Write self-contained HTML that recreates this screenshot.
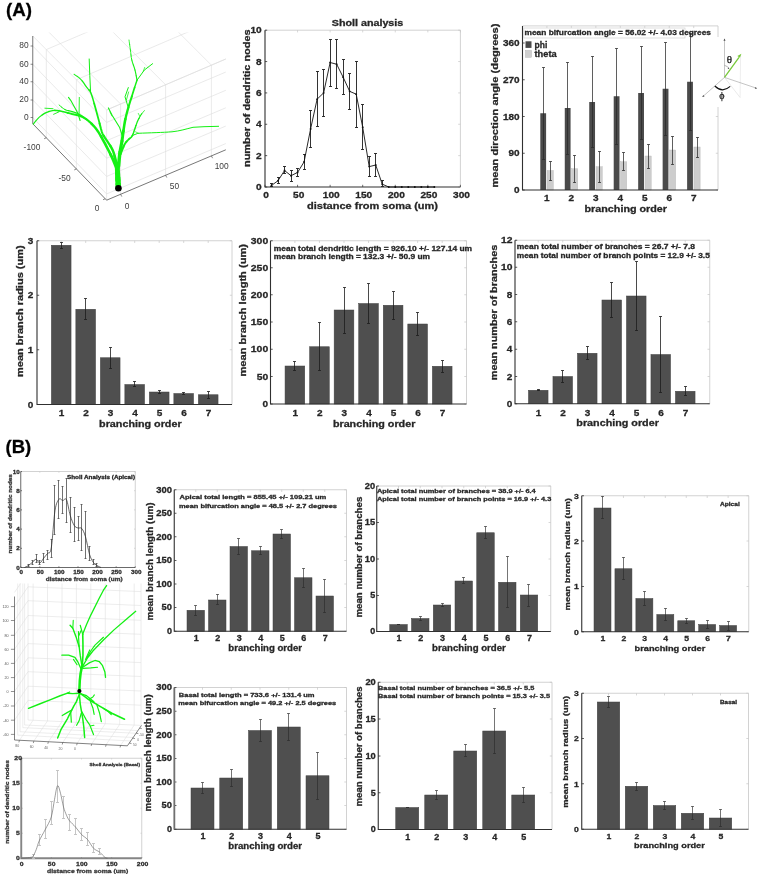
<!DOCTYPE html>
<html><head><meta charset="utf-8"><title>Figure</title>
<style>html,body{margin:0;padding:0;background:#fff;}svg{display:block;}</style></head>
<body>
<svg width="760" height="876" viewBox="0 0 760 876" font-family='"Liberation Sans", sans-serif'>
<rect x="0.00" y="0.00" width="760.00" height="876.00" fill="#ffffff"/>
<clipPath id="cpA"><rect x="20" y="32.5" width="206.2" height="180"/></clipPath>
<g clip-path="url(#cpA)" fill="none" stroke="#dcdcdc" stroke-width="0.6">
<path d="M32.75 46.00L106.60 122.45L225.80 72.05"/>
<path d="M32.75 64.25L106.60 140.70L225.80 90.30"/>
<path d="M32.75 81.75L106.60 158.20L225.80 107.80"/>
<path d="M32.75 100.00L106.60 176.45L225.80 126.05"/>
<path d="M32.75 117.50L106.60 193.95L225.80 143.55"/>
<path d="M32.75 36.00L106.60 110.00L225.80 59.00"/>
<path d="M46.30 137.78V49.58L165.50 -1.42"/>
<path d="M76.40 168.94V79.74L195.60 28.74"/>
<path d="M106.60 200.20V110.00L225.80 59.00"/>
<path d="M120.60 194.28V104.01L46.75 30.01"/>
<path d="M165.60 175.25V84.76L91.75 10.76"/>
<path d="M211.40 155.89V65.16L137.55 -8.84"/>
</g>
<path d="M32.75 36.0V123.75L106.60 200.20L225.80 149.80" fill="none" stroke="#3c3c3c" stroke-width="0.7"/>
<line x1="30.55" y1="46.00" x2="32.75" y2="46.00" stroke="#3c3c3c" stroke-width="0.6"/>
<line x1="30.55" y1="64.25" x2="32.75" y2="64.25" stroke="#3c3c3c" stroke-width="0.6"/>
<line x1="30.55" y1="81.75" x2="32.75" y2="81.75" stroke="#3c3c3c" stroke-width="0.6"/>
<line x1="30.55" y1="100.00" x2="32.75" y2="100.00" stroke="#3c3c3c" stroke-width="0.6"/>
<line x1="30.55" y1="117.50" x2="32.75" y2="117.50" stroke="#3c3c3c" stroke-width="0.6"/>
<line x1="46.30" y1="137.78" x2="44.10" y2="138.78" stroke="#3c3c3c" stroke-width="0.6"/>
<line x1="76.40" y1="168.94" x2="74.20" y2="169.94" stroke="#3c3c3c" stroke-width="0.6"/>
<line x1="105.20" y1="198.75" x2="103.00" y2="199.75" stroke="#3c3c3c" stroke-width="0.6"/>
<line x1="120.60" y1="194.28" x2="121.80" y2="196.58" stroke="#3c3c3c" stroke-width="0.6"/>
<line x1="165.60" y1="175.25" x2="166.80" y2="177.55" stroke="#3c3c3c" stroke-width="0.6"/>
<line x1="211.40" y1="155.89" x2="212.60" y2="158.19" stroke="#3c3c3c" stroke-width="0.6"/>
<path d="M118.30 186.00L118.21 184.56" fill="none" stroke="#14f014" stroke-width="5.54" stroke-linecap="round" stroke-linejoin="round"/>
<path d="M118.21 184.56L118.07 182.50L117.93 180.19" fill="none" stroke="#14f014" stroke-width="5.41" stroke-linecap="round" stroke-linejoin="round"/>
<path d="M117.93 180.19L117.80 178.00" fill="none" stroke="#14f014" stroke-width="5.29" stroke-linecap="round" stroke-linejoin="round"/>
<path d="M117.80 178.00L117.69 175.95L117.58 173.88" fill="none" stroke="#14f014" stroke-width="5.16" stroke-linecap="round" stroke-linejoin="round"/>
<path d="M117.58 173.88L117.48 171.86" fill="none" stroke="#14f014" stroke-width="5.04" stroke-linecap="round" stroke-linejoin="round"/>
<path d="M117.48 171.86L117.40 170.00L117.33 168.22" fill="none" stroke="#14f014" stroke-width="4.91" stroke-linecap="round" stroke-linejoin="round"/>
<path d="M117.33 168.22L117.28 166.50" fill="none" stroke="#14f014" stroke-width="4.79" stroke-linecap="round" stroke-linejoin="round"/>
<path d="M117.28 166.50L117.23 165.03L117.20 164.00" fill="none" stroke="#14f014" stroke-width="4.66" stroke-linecap="round" stroke-linejoin="round"/>
<path d="M116.40 168.00L115.71 166.27L114.71 163.78L113.59 161.03L112.50 158.50L111.54 156.42L110.61 154.51" fill="none" stroke="#14f014" stroke-width="2.88" stroke-linecap="round" stroke-linejoin="round"/>
<path d="M110.61 154.51L109.57 152.46L108.30 150.00L106.66 146.84L104.74 143.21L102.79 139.57L101.00 136.40" fill="none" stroke="#14f014" stroke-width="2.62" stroke-linecap="round" stroke-linejoin="round"/>
<path d="M101.00 136.40L99.50 133.87L98.15 131.71L96.80 129.74L95.30 127.80L93.59 125.81L91.74 123.88" fill="none" stroke="#14f014" stroke-width="2.38" stroke-linecap="round" stroke-linejoin="round"/>
<path d="M91.74 123.88L89.86 122.08L88.00 120.50L86.23 119.16L84.49 118.03L82.70 117.06L80.80 116.20" fill="none" stroke="#14f014" stroke-width="2.12" stroke-linecap="round" stroke-linejoin="round"/>
<path d="M80.80 116.20L78.73 115.50L76.54 114.97L74.31 114.50L72.10 114.00L69.92 113.43L67.75 112.85" fill="none" stroke="#14f014" stroke-width="1.88" stroke-linecap="round" stroke-linejoin="round"/>
<path d="M67.75 112.85L65.57 112.29L63.40 111.80L61.22 111.31L59.04 110.83L56.87 110.48L54.70 110.40" fill="none" stroke="#14f014" stroke-width="1.62" stroke-linecap="round" stroke-linejoin="round"/>
<path d="M54.70 110.40L52.51 110.63L50.31 111.10L48.16 111.77L46.10 112.60L44.14 113.62L42.26 114.83" fill="none" stroke="#14f014" stroke-width="1.38" stroke-linecap="round" stroke-linejoin="round"/>
<path d="M42.26 114.83L40.47 116.18L38.80 117.60L37.17 119.27L35.59 121.16L34.25 122.90L33.30 124.10" fill="none" stroke="#14f014" stroke-width="1.12" stroke-linecap="round" stroke-linejoin="round"/>
<path d="M44.9 108.2L53 108.7" fill="none" stroke="#14f014" stroke-width="0.9" stroke-linecap="round" stroke-linejoin="round"/>
<path d="M53.6 114.3L59.1 111.8" fill="none" stroke="#14f014" stroke-width="0.9" stroke-linecap="round" stroke-linejoin="round"/>
<path d="M88.00 120.50L86.40 119.33L84.10 117.62" fill="none" stroke="#14f014" stroke-width="1.37" stroke-linecap="round" stroke-linejoin="round"/>
<path d="M84.10 117.62L81.57 115.84L79.30 114.40" fill="none" stroke="#14f014" stroke-width="1.31" stroke-linecap="round" stroke-linejoin="round"/>
<path d="M79.30 114.40L77.39 113.45L75.61 112.75" fill="none" stroke="#14f014" stroke-width="1.24" stroke-linecap="round" stroke-linejoin="round"/>
<path d="M75.61 112.75L73.86 112.17L72.10 111.60" fill="none" stroke="#14f014" stroke-width="1.18" stroke-linecap="round" stroke-linejoin="round"/>
<path d="M72.10 111.60L70.27 111.08L68.41 110.66" fill="none" stroke="#14f014" stroke-width="1.12" stroke-linecap="round" stroke-linejoin="round"/>
<path d="M68.41 110.66L66.60 110.18L64.90 109.50" fill="none" stroke="#14f014" stroke-width="1.06" stroke-linecap="round" stroke-linejoin="round"/>
<path d="M64.90 109.50L63.22 108.44L61.55 107.12" fill="none" stroke="#14f014" stroke-width="0.99" stroke-linecap="round" stroke-linejoin="round"/>
<path d="M61.55 107.12L60.11 105.86L59.10 105.00" fill="none" stroke="#14f014" stroke-width="0.93" stroke-linecap="round" stroke-linejoin="round"/>
<path d="M68.5 97.4L70.7 100.3L77.9 113.3L80.1 120.5" fill="none" stroke="#14f014" stroke-width="1.1" stroke-linecap="round" stroke-linejoin="round"/>
<path d="M79.3 97.4L79.1 113.3" fill="none" stroke="#14f014" stroke-width="0.9" stroke-linecap="round" stroke-linejoin="round"/>
<path d="M117.40 168.00L117.01 166.27L116.46 163.78L115.83 161.03L115.20 158.50L114.64 156.30" fill="none" stroke="#14f014" stroke-width="2.77" stroke-linecap="round" stroke-linejoin="round"/>
<path d="M114.64 156.30L114.08 154.19L113.44 152.10L112.60 150.00L111.50 147.86L110.20 145.71" fill="none" stroke="#14f014" stroke-width="2.52" stroke-linecap="round" stroke-linejoin="round"/>
<path d="M110.20 145.71L108.83 143.58L107.50 141.50L106.19 139.54L104.86 137.66L103.60 135.72" fill="none" stroke="#14f014" stroke-width="2.27" stroke-linecap="round" stroke-linejoin="round"/>
<path d="M103.60 135.72L102.50 133.60L101.66 131.35L101.01 129.00L100.37 126.40L99.60 123.40" fill="none" stroke="#14f014" stroke-width="2.02" stroke-linecap="round" stroke-linejoin="round"/>
<path d="M99.60 123.40L98.63 119.79L97.54 115.72L96.41 111.51L95.30 107.50L94.20 103.57" fill="none" stroke="#14f014" stroke-width="1.77" stroke-linecap="round" stroke-linejoin="round"/>
<path d="M94.20 103.57L93.10 99.62L92.00 95.98L90.90 93.00L89.85 90.99L88.84 89.69" fill="none" stroke="#14f014" stroke-width="1.52" stroke-linecap="round" stroke-linejoin="round"/>
<path d="M88.84 89.69L87.78 88.59L86.60 87.20L85.28 85.31L83.86 83.21L82.36 81.13" fill="none" stroke="#14f014" stroke-width="1.27" stroke-linecap="round" stroke-linejoin="round"/>
<path d="M82.36 81.13L80.80 79.30L79.01 77.71L77.04 76.26L75.25 75.05L74.00 74.20" fill="none" stroke="#14f014" stroke-width="1.02" stroke-linecap="round" stroke-linejoin="round"/>
<path d="M89.2 59L89.8 75.6L90.6 92.4" fill="none" stroke="#14f014" stroke-width="1.0" stroke-linecap="round" stroke-linejoin="round"/>
<path d="M118.60 166.00L118.84 163.41L119.17 159.69L119.57 155.62L120.00 152.00" fill="none" stroke="#14f014" stroke-width="3.46" stroke-linecap="round" stroke-linejoin="round"/>
<path d="M120.00 152.00L120.47 149.02L121.00 146.25L121.53 143.61L122.00 141.00" fill="none" stroke="#14f014" stroke-width="3.17" stroke-linecap="round" stroke-linejoin="round"/>
<path d="M122.00 141.00L122.38 138.48L122.70 136.06L123.02 133.62L123.40 131.00" fill="none" stroke="#14f014" stroke-width="2.88" stroke-linecap="round" stroke-linejoin="round"/>
<path d="M123.40 131.00L123.83 128.14L124.29 125.12L124.81 122.05L125.40 119.00" fill="none" stroke="#14f014" stroke-width="2.59" stroke-linecap="round" stroke-linejoin="round"/>
<path d="M125.40 119.00L126.09 115.96L126.87 112.91L127.69 109.89L128.50 107.00" fill="none" stroke="#14f014" stroke-width="2.31" stroke-linecap="round" stroke-linejoin="round"/>
<path d="M128.50 107.00L129.32 104.23L130.17 101.56L131.01 98.98L131.80 96.50" fill="none" stroke="#14f014" stroke-width="2.02" stroke-linecap="round" stroke-linejoin="round"/>
<path d="M131.80 96.50L132.54 94.10L133.26 91.80L133.94 89.60L134.60 87.50" fill="none" stroke="#14f014" stroke-width="1.73" stroke-linecap="round" stroke-linejoin="round"/>
<path d="M134.60 87.50L135.28 85.38L135.97 83.29L136.58 81.47L137.00 80.20" fill="none" stroke="#14f014" stroke-width="1.44" stroke-linecap="round" stroke-linejoin="round"/>
<path d="M137.00 80.20L136.67 78.36L136.20 75.73" fill="none" stroke="#14f014" stroke-width="1.18" stroke-linecap="round" stroke-linejoin="round"/>
<path d="M136.20 75.73L135.63 72.78L135.00 70.00" fill="none" stroke="#14f014" stroke-width="1.12" stroke-linecap="round" stroke-linejoin="round"/>
<path d="M135.00 70.00L134.24 67.49L133.36 64.99" fill="none" stroke="#14f014" stroke-width="1.07" stroke-linecap="round" stroke-linejoin="round"/>
<path d="M133.36 64.99L132.50 62.50L131.80 60.00" fill="none" stroke="#14f014" stroke-width="1.02" stroke-linecap="round" stroke-linejoin="round"/>
<path d="M131.80 60.00L131.32 57.50L130.99 55.00" fill="none" stroke="#14f014" stroke-width="0.97" stroke-linecap="round" stroke-linejoin="round"/>
<path d="M130.99 55.00L130.71 52.50L130.40 50.00" fill="none" stroke="#14f014" stroke-width="0.93" stroke-linecap="round" stroke-linejoin="round"/>
<path d="M130.40 50.00L130.02 47.27L129.61 44.38" fill="none" stroke="#14f014" stroke-width="0.88" stroke-linecap="round" stroke-linejoin="round"/>
<path d="M129.61 44.38L129.25 41.80L129.00 40.00" fill="none" stroke="#14f014" stroke-width="0.83" stroke-linecap="round" stroke-linejoin="round"/>
<path d="M137 80.2L144.3 70.1L152.6 63.7" fill="none" stroke="#14f014" stroke-width="1.0" stroke-linecap="round" stroke-linejoin="round"/>
<path d="M143.4 71L144.7 67.4" fill="none" stroke="#14f014" stroke-width="0.7" stroke-linecap="round" stroke-linejoin="round"/>
<path d="M127.8 106L125 96.8L128.3 87.6" fill="none" stroke="#14f014" stroke-width="1.0" stroke-linecap="round" stroke-linejoin="round"/>
<path d="M126.4 100L128.6 92" fill="none" stroke="#14f014" stroke-width="0.8" stroke-linecap="round" stroke-linejoin="round"/>
<path d="M108.4 107.9L112.1 115.3L119.5 127.2L122.2 135.5" fill="none" stroke="#14f014" stroke-width="1.1" stroke-linecap="round" stroke-linejoin="round"/>
<path d="M110 112L112 116" fill="none" stroke="#14f014" stroke-width="0.8" stroke-linecap="round" stroke-linejoin="round"/>
<path d="M120.60 154.00L121.30 152.19L122.30 149.56L123.43 146.78" fill="none" stroke="#14f014" stroke-width="2.12" stroke-linecap="round" stroke-linejoin="round"/>
<path d="M123.43 146.78L124.50 144.50L125.50 142.91L126.50 141.66" fill="none" stroke="#14f014" stroke-width="1.96" stroke-linecap="round" stroke-linejoin="round"/>
<path d="M126.50 141.66L127.50 140.57L128.50 139.50L129.47 138.64" fill="none" stroke="#14f014" stroke-width="1.79" stroke-linecap="round" stroke-linejoin="round"/>
<path d="M129.47 138.64L130.41 137.99L131.38 137.10L132.40 135.50" fill="none" stroke="#14f014" stroke-width="1.63" stroke-linecap="round" stroke-linejoin="round"/>
<path d="M132.40 135.50L133.52 132.77L134.71 129.26L135.90 125.64" fill="none" stroke="#14f014" stroke-width="1.47" stroke-linecap="round" stroke-linejoin="round"/>
<path d="M135.90 125.64L137.00 122.60L137.99 120.32L138.91 118.43" fill="none" stroke="#14f014" stroke-width="1.31" stroke-linecap="round" stroke-linejoin="round"/>
<path d="M138.91 118.43L139.80 116.80L140.70 115.30L141.69 113.85" fill="none" stroke="#14f014" stroke-width="1.14" stroke-linecap="round" stroke-linejoin="round"/>
<path d="M141.69 113.85L142.73 112.54L143.66 111.46L144.30 110.70" fill="none" stroke="#14f014" stroke-width="0.98" stroke-linecap="round" stroke-linejoin="round"/>
<path d="M138.3 113.4L139.7 116.2" fill="none" stroke="#14f014" stroke-width="0.7" stroke-linecap="round" stroke-linejoin="round"/>
<path d="M132.4 135.5L137.9 133.3C150 132.8 163 132.5 172 131.8C180 131 186 129 193 127.3L204 126.7L218.6 126.3" fill="none" stroke="#14f014" stroke-width="1.0" stroke-linecap="round" stroke-linejoin="round"/>
<path d="M135.5 131.8L138.5 133.3" fill="none" stroke="#14f014" stroke-width="0.7" stroke-linecap="round" stroke-linejoin="round"/>
<circle cx="118.4" cy="188.2" r="3.3" fill="#000"/>
<path d="M265.00 30.20H460.40V187.00" fill="none" stroke="#c6c6c6" stroke-width="0.8"/>
<line x1="265.00" y1="30.20" x2="265.00" y2="32.40" stroke="#c6c6c6" stroke-width="0.7"/>
<line x1="297.57" y1="30.20" x2="297.57" y2="32.40" stroke="#c6c6c6" stroke-width="0.7"/>
<line x1="330.13" y1="30.20" x2="330.13" y2="32.40" stroke="#c6c6c6" stroke-width="0.7"/>
<line x1="362.70" y1="30.20" x2="362.70" y2="32.40" stroke="#c6c6c6" stroke-width="0.7"/>
<line x1="395.27" y1="30.20" x2="395.27" y2="32.40" stroke="#c6c6c6" stroke-width="0.7"/>
<line x1="427.83" y1="30.20" x2="427.83" y2="32.40" stroke="#c6c6c6" stroke-width="0.7"/>
<line x1="460.40" y1="30.20" x2="460.40" y2="32.40" stroke="#c6c6c6" stroke-width="0.7"/>
<line x1="460.40" y1="187.00" x2="458.20" y2="187.00" stroke="#c6c6c6" stroke-width="0.7"/>
<line x1="460.40" y1="155.64" x2="458.20" y2="155.64" stroke="#c6c6c6" stroke-width="0.7"/>
<line x1="460.40" y1="124.28" x2="458.20" y2="124.28" stroke="#c6c6c6" stroke-width="0.7"/>
<line x1="460.40" y1="92.92" x2="458.20" y2="92.92" stroke="#c6c6c6" stroke-width="0.7"/>
<line x1="460.40" y1="61.56" x2="458.20" y2="61.56" stroke="#c6c6c6" stroke-width="0.7"/>
<line x1="460.40" y1="30.20" x2="458.20" y2="30.20" stroke="#c6c6c6" stroke-width="0.7"/>
<path d="M265.00 30.20V187.00H460.40" fill="none" stroke="#303030" stroke-width="1.1"/>
<line x1="265.00" y1="187.00" x2="265.00" y2="184.80" stroke="#303030" stroke-width="0.7"/>
<line x1="297.57" y1="187.00" x2="297.57" y2="184.80" stroke="#303030" stroke-width="0.7"/>
<line x1="330.13" y1="187.00" x2="330.13" y2="184.80" stroke="#303030" stroke-width="0.7"/>
<line x1="362.70" y1="187.00" x2="362.70" y2="184.80" stroke="#303030" stroke-width="0.7"/>
<line x1="395.27" y1="187.00" x2="395.27" y2="184.80" stroke="#303030" stroke-width="0.7"/>
<line x1="427.83" y1="187.00" x2="427.83" y2="184.80" stroke="#303030" stroke-width="0.7"/>
<line x1="460.40" y1="187.00" x2="460.40" y2="184.80" stroke="#303030" stroke-width="0.7"/>
<line x1="265.00" y1="187.00" x2="267.20" y2="187.00" stroke="#303030" stroke-width="0.8"/>
<line x1="265.00" y1="155.64" x2="267.20" y2="155.64" stroke="#303030" stroke-width="0.8"/>
<line x1="265.00" y1="124.28" x2="267.20" y2="124.28" stroke="#303030" stroke-width="0.8"/>
<line x1="265.00" y1="92.92" x2="267.20" y2="92.92" stroke="#303030" stroke-width="0.8"/>
<line x1="265.00" y1="61.56" x2="267.20" y2="61.56" stroke="#303030" stroke-width="0.8"/>
<line x1="265.00" y1="30.20" x2="267.20" y2="30.20" stroke="#303030" stroke-width="0.8"/>
<path d="M271.50 183.50V186.50M270.00 183.50H273.00M270.00 186.50H273.00" fill="none" stroke="#1c1c1c" stroke-width="0.9"/>
<path d="M278.50 177.50V183.50M277.00 177.50H280.00M277.00 183.50H280.00" fill="none" stroke="#1c1c1c" stroke-width="0.9"/>
<path d="M284.50 166.50V173.50M283.00 166.50H286.00M283.00 173.50H286.00" fill="none" stroke="#1c1c1c" stroke-width="0.9"/>
<path d="M291.50 170.50V181.50M290.00 170.50H293.00M290.00 181.50H293.00" fill="none" stroke="#1c1c1c" stroke-width="0.9"/>
<path d="M297.50 168.50V176.50M296.00 168.50H299.00M296.00 176.50H299.00" fill="none" stroke="#1c1c1c" stroke-width="0.9"/>
<path d="M304.50 154.50V169.50M303.00 154.50H306.00M303.00 169.50H306.00" fill="none" stroke="#1c1c1c" stroke-width="0.9"/>
<path d="M310.50 110.50V147.50M309.00 110.50H312.00M309.00 147.50H312.00" fill="none" stroke="#1c1c1c" stroke-width="0.9"/>
<path d="M317.50 71.50V126.50M316.00 71.50H319.00M316.00 126.50H319.00" fill="none" stroke="#1c1c1c" stroke-width="0.9"/>
<path d="M323.50 69.50V116.50M322.00 69.50H325.00M322.00 116.50H325.00" fill="none" stroke="#1c1c1c" stroke-width="0.9"/>
<path d="M330.50 39.50V86.50M329.00 39.50H332.00M329.00 86.50H332.00" fill="none" stroke="#1c1c1c" stroke-width="0.9"/>
<path d="M336.50 39.50V88.50M335.00 39.50H338.00M335.00 88.50H338.00" fill="none" stroke="#1c1c1c" stroke-width="0.9"/>
<path d="M343.50 59.50V94.50M342.00 59.50H345.00M342.00 94.50H345.00" fill="none" stroke="#1c1c1c" stroke-width="0.9"/>
<path d="M349.50 73.50V109.50M348.00 73.50H351.00M348.00 109.50H351.00" fill="none" stroke="#1c1c1c" stroke-width="0.9"/>
<path d="M356.50 61.50V127.50M355.00 61.50H358.00M355.00 127.50H358.00" fill="none" stroke="#1c1c1c" stroke-width="0.9"/>
<path d="M362.50 104.50V149.50M361.00 104.50H364.00M361.00 149.50H364.00" fill="none" stroke="#1c1c1c" stroke-width="0.9"/>
<path d="M369.50 156.50V176.50M368.00 156.50H371.00M368.00 176.50H371.00" fill="none" stroke="#1c1c1c" stroke-width="0.9"/>
<path d="M375.50 153.50V176.50M374.00 153.50H377.00M374.00 176.50H377.00" fill="none" stroke="#1c1c1c" stroke-width="0.9"/>
<path d="M382.50 180.50V186.50M381.00 180.50H384.00M381.00 186.50H384.00" fill="none" stroke="#1c1c1c" stroke-width="0.9"/>
<polyline points="271.51,185.43 278.03,180.73 284.54,170.54 291.05,175.71 297.57,172.42 304.08,161.91 310.59,128.98 317.11,99.19 323.62,92.92 330.13,62.50 336.65,64.23 343.16,77.24 349.67,91.35 356.19,94.17 362.70,127.26 369.21,166.62 375.73,165.05 382.24,184.18 388.75,187.00 395.27,187.00 401.78,187.00 408.29,187.00 414.81,187.00 421.32,187.00 427.83,187.00 434.35,187.00" fill="none" stroke="#111" stroke-width="0.9"/>
<circle cx="271.51" cy="185.43" r="0.95" fill="#111"/>
<circle cx="278.03" cy="180.73" r="0.95" fill="#111"/>
<circle cx="284.54" cy="170.54" r="0.95" fill="#111"/>
<circle cx="291.05" cy="175.71" r="0.95" fill="#111"/>
<circle cx="297.57" cy="172.42" r="0.95" fill="#111"/>
<circle cx="304.08" cy="161.91" r="0.95" fill="#111"/>
<circle cx="310.59" cy="128.98" r="0.95" fill="#111"/>
<circle cx="317.11" cy="99.19" r="0.95" fill="#111"/>
<circle cx="323.62" cy="92.92" r="0.95" fill="#111"/>
<circle cx="330.13" cy="62.50" r="0.95" fill="#111"/>
<circle cx="336.65" cy="64.23" r="0.95" fill="#111"/>
<circle cx="343.16" cy="77.24" r="0.95" fill="#111"/>
<circle cx="349.67" cy="91.35" r="0.95" fill="#111"/>
<circle cx="356.19" cy="94.17" r="0.95" fill="#111"/>
<circle cx="362.70" cy="127.26" r="0.95" fill="#111"/>
<circle cx="369.21" cy="166.62" r="0.95" fill="#111"/>
<circle cx="375.73" cy="165.05" r="0.95" fill="#111"/>
<circle cx="382.24" cy="184.18" r="0.95" fill="#111"/>
<circle cx="388.75" cy="187.00" r="0.95" fill="#111"/>
<circle cx="395.27" cy="187.00" r="0.95" fill="#111"/>
<circle cx="401.78" cy="187.00" r="0.95" fill="#111"/>
<circle cx="408.29" cy="187.00" r="0.95" fill="#111"/>
<circle cx="414.81" cy="187.00" r="0.95" fill="#111"/>
<circle cx="421.32" cy="187.00" r="0.95" fill="#111"/>
<circle cx="427.83" cy="187.00" r="0.95" fill="#111"/>
<circle cx="434.35" cy="187.00" r="0.95" fill="#111"/>
<rect x="540.30" y="113.25" width="5.80" height="76.75" fill="#4a4a4a"/>
<rect x="547.10" y="170.50" width="6.20" height="19.50" fill="#cdcdcd"/>
<rect x="547.10" y="170.50" width="6.2" height="19.50" fill="none" stroke="#b4b4b4" stroke-width="0.4"/>
<rect x="564.77" y="108.00" width="5.80" height="82.00" fill="#4a4a4a"/>
<rect x="571.57" y="168.75" width="6.20" height="21.25" fill="#cdcdcd"/>
<rect x="571.57" y="168.75" width="6.2" height="21.25" fill="none" stroke="#b4b4b4" stroke-width="0.4"/>
<rect x="589.24" y="102.00" width="5.80" height="88.00" fill="#4a4a4a"/>
<rect x="596.04" y="166.75" width="6.20" height="23.25" fill="#cdcdcd"/>
<rect x="596.04" y="166.75" width="6.2" height="23.25" fill="none" stroke="#b4b4b4" stroke-width="0.4"/>
<rect x="613.71" y="96.25" width="5.80" height="93.75" fill="#4a4a4a"/>
<rect x="620.51" y="161.75" width="6.20" height="28.25" fill="#cdcdcd"/>
<rect x="620.51" y="161.75" width="6.2" height="28.25" fill="none" stroke="#b4b4b4" stroke-width="0.4"/>
<rect x="638.18" y="93.00" width="5.80" height="97.00" fill="#4a4a4a"/>
<rect x="644.98" y="156.00" width="6.20" height="34.00" fill="#cdcdcd"/>
<rect x="644.98" y="156.00" width="6.2" height="34.00" fill="none" stroke="#b4b4b4" stroke-width="0.4"/>
<rect x="662.65" y="88.75" width="5.80" height="101.25" fill="#4a4a4a"/>
<rect x="669.45" y="150.00" width="6.20" height="40.00" fill="#cdcdcd"/>
<rect x="669.45" y="150.00" width="6.2" height="40.00" fill="none" stroke="#b4b4b4" stroke-width="0.4"/>
<rect x="687.12" y="81.75" width="5.80" height="108.25" fill="#4a4a4a"/>
<rect x="693.92" y="147.00" width="6.20" height="43.00" fill="#cdcdcd"/>
<rect x="693.92" y="147.00" width="6.2" height="43.00" fill="none" stroke="#b4b4b4" stroke-width="0.4"/>
<path d="M522.50 25.90H718.00V190.00" fill="none" stroke="#c6c6c6" stroke-width="0.8"/>
<line x1="546.90" y1="25.90" x2="546.90" y2="28.10" stroke="#c6c6c6" stroke-width="0.7"/>
<line x1="571.37" y1="25.90" x2="571.37" y2="28.10" stroke="#c6c6c6" stroke-width="0.7"/>
<line x1="595.84" y1="25.90" x2="595.84" y2="28.10" stroke="#c6c6c6" stroke-width="0.7"/>
<line x1="620.31" y1="25.90" x2="620.31" y2="28.10" stroke="#c6c6c6" stroke-width="0.7"/>
<line x1="644.78" y1="25.90" x2="644.78" y2="28.10" stroke="#c6c6c6" stroke-width="0.7"/>
<line x1="669.25" y1="25.90" x2="669.25" y2="28.10" stroke="#c6c6c6" stroke-width="0.7"/>
<line x1="693.72" y1="25.90" x2="693.72" y2="28.10" stroke="#c6c6c6" stroke-width="0.7"/>
<line x1="718.00" y1="190.00" x2="715.80" y2="190.00" stroke="#c6c6c6" stroke-width="0.7"/>
<line x1="718.00" y1="153.25" x2="715.80" y2="153.25" stroke="#c6c6c6" stroke-width="0.7"/>
<line x1="718.00" y1="116.50" x2="715.80" y2="116.50" stroke="#c6c6c6" stroke-width="0.7"/>
<line x1="718.00" y1="79.75" x2="715.80" y2="79.75" stroke="#c6c6c6" stroke-width="0.7"/>
<line x1="718.00" y1="43.00" x2="715.80" y2="43.00" stroke="#c6c6c6" stroke-width="0.7"/>
<path d="M522.50 25.90V190.00H718.00" fill="none" stroke="#303030" stroke-width="1.1"/>
<line x1="522.50" y1="190.00" x2="524.70" y2="190.00" stroke="#303030" stroke-width="0.8"/>
<line x1="522.50" y1="153.25" x2="524.70" y2="153.25" stroke="#303030" stroke-width="0.8"/>
<line x1="522.50" y1="116.50" x2="524.70" y2="116.50" stroke="#303030" stroke-width="0.8"/>
<line x1="522.50" y1="79.75" x2="524.70" y2="79.75" stroke="#303030" stroke-width="0.8"/>
<line x1="522.50" y1="43.00" x2="524.70" y2="43.00" stroke="#303030" stroke-width="0.8"/>
<path d="M543.50 67.50V159.50M542.00 67.50H545.00M542.00 159.50H545.00" fill="none" stroke="#2a2a2a" stroke-width="0.75"/>
<path d="M550.50 161.50V180.50M549.00 161.50H552.00M549.00 180.50H552.00" fill="none" stroke="#2a2a2a" stroke-width="0.75"/>
<path d="M567.50 62.50V154.50M566.00 62.50H569.00M566.00 154.50H569.00" fill="none" stroke="#2a2a2a" stroke-width="0.75"/>
<path d="M574.50 155.50V182.50M573.00 155.50H576.00M573.00 182.50H576.00" fill="none" stroke="#2a2a2a" stroke-width="0.75"/>
<path d="M592.50 56.50V147.50M591.00 56.50H594.00M591.00 147.50H594.00" fill="none" stroke="#2a2a2a" stroke-width="0.75"/>
<path d="M599.50 151.50V182.50M598.00 151.50H601.00M598.00 182.50H601.00" fill="none" stroke="#2a2a2a" stroke-width="0.75"/>
<path d="M616.50 48.50V144.50M615.00 48.50H618.00M615.00 144.50H618.00" fill="none" stroke="#2a2a2a" stroke-width="0.75"/>
<path d="M623.50 152.50V170.50M622.00 152.50H625.00M622.00 170.50H625.00" fill="none" stroke="#2a2a2a" stroke-width="0.75"/>
<path d="M641.50 46.50V139.50M640.00 46.50H643.00M640.00 139.50H643.00" fill="none" stroke="#2a2a2a" stroke-width="0.75"/>
<path d="M648.50 144.50V168.50M647.00 144.50H650.00M647.00 168.50H650.00" fill="none" stroke="#2a2a2a" stroke-width="0.75"/>
<path d="M665.50 42.50V135.50M664.00 42.50H667.00M664.00 135.50H667.00" fill="none" stroke="#2a2a2a" stroke-width="0.75"/>
<path d="M672.50 136.50V164.50M671.00 136.50H674.00M671.00 164.50H674.00" fill="none" stroke="#2a2a2a" stroke-width="0.75"/>
<path d="M690.50 33.50V130.50M689.00 33.50H692.00M689.00 130.50H692.00" fill="none" stroke="#2a2a2a" stroke-width="0.75"/>
<path d="M697.50 137.50V157.50M696.00 137.50H699.00M696.00 157.50H699.00" fill="none" stroke="#2a2a2a" stroke-width="0.75"/>
<rect x="523.8" y="28.0" width="161.2" height="10.0" fill="#ffffff" stroke="#d2d2d2" stroke-width="0.7"/>
<rect x="525.50" y="41.30" width="6.00" height="6.60" fill="#4a4a4a"/>
<rect x="525.5" y="50.5" width="6.0" height="6.8" fill="#cfcfcf" stroke="#a8a8a8" stroke-width="0.4"/>
<rect x="701.50" y="37.00" width="58.50" height="70.00" fill="#ffffff"/>
<line x1="740.60" y1="55.00" x2="740.10" y2="97.50" stroke="#e2e2e2" stroke-width="0.6"/>
<line x1="724.50" y1="77.40" x2="740.10" y2="97.50" stroke="#dcdcdc" stroke-width="0.6"/>
<line x1="724.50" y1="77.40" x2="724.50" y2="40.20" stroke="#8a8a8a" stroke-width="0.5"/>
<path d="M724.5 38.6l-1 2.2h2z" fill="#444"/>
<line x1="724.50" y1="77.40" x2="755.60" y2="87.90" stroke="#8a8a8a" stroke-width="0.5"/>
<path d="M757.2 88.5l-2.4 0.3l0.7-1.7z" fill="#444"/>
<line x1="724.50" y1="77.40" x2="703.60" y2="95.90" stroke="#8a8a8a" stroke-width="0.5"/>
<path d="M702.2 97.0l2.3-0.6l-1.2-1.5z" fill="#444"/>
<line x1="724.50" y1="77.40" x2="739.00" y2="57.40" stroke="#76c837" stroke-width="1.25"/>
<path d="M741.4 53.8l-4.0 2.3l2.5 1.7z" fill="#76c837"/>
<path d="M714.8 86.0Q722.4 93.4 730.2 86.4" fill="none" stroke="#111" stroke-width="1.1"/>
<path d="M724.6 65.4Q727.4 66.2 728.9 68.2" fill="none" stroke="#444" stroke-width="0.4"/>
<path d="M729.3 68.9l-1.7-0.5l1.1-0.9z" fill="#333"/>
<rect x="51.35" y="245.25" width="19.70" height="159.25" fill="#4f4f4f" stroke="#404040" stroke-width="0.5"/>
<rect x="75.85" y="309.25" width="19.70" height="95.25" fill="#4f4f4f" stroke="#404040" stroke-width="0.5"/>
<rect x="100.35" y="357.75" width="19.70" height="46.75" fill="#4f4f4f" stroke="#404040" stroke-width="0.5"/>
<rect x="124.85" y="384.50" width="19.70" height="20.00" fill="#4f4f4f" stroke="#404040" stroke-width="0.5"/>
<rect x="149.35" y="392.00" width="19.70" height="12.50" fill="#4f4f4f" stroke="#404040" stroke-width="0.5"/>
<rect x="173.85" y="393.50" width="19.70" height="11.00" fill="#4f4f4f" stroke="#404040" stroke-width="0.5"/>
<rect x="198.35" y="394.75" width="19.70" height="9.75" fill="#4f4f4f" stroke="#404040" stroke-width="0.5"/>
<path d="M37.00 240.75H232.00V404.50" fill="none" stroke="#c6c6c6" stroke-width="0.8"/>
<line x1="61.20" y1="240.75" x2="61.20" y2="242.95" stroke="#c6c6c6" stroke-width="0.7"/>
<line x1="85.70" y1="240.75" x2="85.70" y2="242.95" stroke="#c6c6c6" stroke-width="0.7"/>
<line x1="110.20" y1="240.75" x2="110.20" y2="242.95" stroke="#c6c6c6" stroke-width="0.7"/>
<line x1="134.70" y1="240.75" x2="134.70" y2="242.95" stroke="#c6c6c6" stroke-width="0.7"/>
<line x1="159.20" y1="240.75" x2="159.20" y2="242.95" stroke="#c6c6c6" stroke-width="0.7"/>
<line x1="183.70" y1="240.75" x2="183.70" y2="242.95" stroke="#c6c6c6" stroke-width="0.7"/>
<line x1="208.20" y1="240.75" x2="208.20" y2="242.95" stroke="#c6c6c6" stroke-width="0.7"/>
<line x1="232.00" y1="404.50" x2="229.80" y2="404.50" stroke="#c6c6c6" stroke-width="0.7"/>
<line x1="232.00" y1="349.75" x2="229.80" y2="349.75" stroke="#c6c6c6" stroke-width="0.7"/>
<line x1="232.00" y1="295.25" x2="229.80" y2="295.25" stroke="#c6c6c6" stroke-width="0.7"/>
<line x1="232.00" y1="240.75" x2="229.80" y2="240.75" stroke="#c6c6c6" stroke-width="0.7"/>
<path d="M37.00 240.75V404.50H232.00" fill="none" stroke="#303030" stroke-width="1.1"/>
<line x1="37.00" y1="404.50" x2="39.20" y2="404.50" stroke="#303030" stroke-width="0.8"/>
<line x1="37.00" y1="349.75" x2="39.20" y2="349.75" stroke="#303030" stroke-width="0.8"/>
<line x1="37.00" y1="295.25" x2="39.20" y2="295.25" stroke="#303030" stroke-width="0.8"/>
<line x1="37.00" y1="240.75" x2="39.20" y2="240.75" stroke="#303030" stroke-width="0.8"/>
<path d="M61.50 242.50V248.50M60.00 242.50H63.00M60.00 248.50H63.00" fill="none" stroke="#1c1c1c" stroke-width="0.8"/>
<path d="M85.50 298.50V319.50M84.00 298.50H87.00M84.00 319.50H87.00" fill="none" stroke="#1c1c1c" stroke-width="0.8"/>
<path d="M110.50 347.50V368.50M109.00 347.50H112.00M109.00 368.50H112.00" fill="none" stroke="#1c1c1c" stroke-width="0.8"/>
<path d="M134.50 381.50V386.50M133.00 381.50H136.00M133.00 386.50H136.00" fill="none" stroke="#1c1c1c" stroke-width="0.8"/>
<path d="M159.50 390.50V393.50M158.00 390.50H161.00M158.00 393.50H161.00" fill="none" stroke="#1c1c1c" stroke-width="0.8"/>
<path d="M183.50 392.50V394.50M182.00 392.50H185.00M182.00 394.50H185.00" fill="none" stroke="#1c1c1c" stroke-width="0.8"/>
<path d="M208.50 391.50V398.50M207.00 391.50H210.00M207.00 398.50H210.00" fill="none" stroke="#1c1c1c" stroke-width="0.8"/>
<rect x="285.05" y="366.00" width="19.70" height="38.00" fill="#4f4f4f" stroke="#404040" stroke-width="0.5"/>
<rect x="309.60" y="346.75" width="19.70" height="57.25" fill="#4f4f4f" stroke="#404040" stroke-width="0.5"/>
<rect x="334.15" y="310.00" width="19.70" height="94.00" fill="#4f4f4f" stroke="#404040" stroke-width="0.5"/>
<rect x="358.70" y="303.50" width="19.70" height="100.50" fill="#4f4f4f" stroke="#404040" stroke-width="0.5"/>
<rect x="383.25" y="305.25" width="19.70" height="98.75" fill="#4f4f4f" stroke="#404040" stroke-width="0.5"/>
<rect x="407.80" y="324.00" width="19.70" height="80.00" fill="#4f4f4f" stroke="#404040" stroke-width="0.5"/>
<rect x="432.35" y="366.25" width="19.70" height="37.75" fill="#4f4f4f" stroke="#404040" stroke-width="0.5"/>
<path d="M270.50 240.75H466.50V404.00" fill="none" stroke="#c6c6c6" stroke-width="0.8"/>
<line x1="294.90" y1="240.75" x2="294.90" y2="242.95" stroke="#c6c6c6" stroke-width="0.7"/>
<line x1="319.45" y1="240.75" x2="319.45" y2="242.95" stroke="#c6c6c6" stroke-width="0.7"/>
<line x1="344.00" y1="240.75" x2="344.00" y2="242.95" stroke="#c6c6c6" stroke-width="0.7"/>
<line x1="368.55" y1="240.75" x2="368.55" y2="242.95" stroke="#c6c6c6" stroke-width="0.7"/>
<line x1="393.10" y1="240.75" x2="393.10" y2="242.95" stroke="#c6c6c6" stroke-width="0.7"/>
<line x1="417.65" y1="240.75" x2="417.65" y2="242.95" stroke="#c6c6c6" stroke-width="0.7"/>
<line x1="442.20" y1="240.75" x2="442.20" y2="242.95" stroke="#c6c6c6" stroke-width="0.7"/>
<line x1="466.50" y1="404.00" x2="464.30" y2="404.00" stroke="#c6c6c6" stroke-width="0.7"/>
<line x1="466.50" y1="376.50" x2="464.30" y2="376.50" stroke="#c6c6c6" stroke-width="0.7"/>
<line x1="466.50" y1="349.25" x2="464.30" y2="349.25" stroke="#c6c6c6" stroke-width="0.7"/>
<line x1="466.50" y1="322.00" x2="464.30" y2="322.00" stroke="#c6c6c6" stroke-width="0.7"/>
<line x1="466.50" y1="294.75" x2="464.30" y2="294.75" stroke="#c6c6c6" stroke-width="0.7"/>
<line x1="466.50" y1="267.75" x2="464.30" y2="267.75" stroke="#c6c6c6" stroke-width="0.7"/>
<line x1="466.50" y1="240.75" x2="464.30" y2="240.75" stroke="#c6c6c6" stroke-width="0.7"/>
<path d="M270.50 240.75V404.00H466.50" fill="none" stroke="#303030" stroke-width="1.1"/>
<line x1="270.50" y1="404.00" x2="272.70" y2="404.00" stroke="#303030" stroke-width="0.8"/>
<line x1="270.50" y1="376.50" x2="272.70" y2="376.50" stroke="#303030" stroke-width="0.8"/>
<line x1="270.50" y1="349.25" x2="272.70" y2="349.25" stroke="#303030" stroke-width="0.8"/>
<line x1="270.50" y1="322.00" x2="272.70" y2="322.00" stroke="#303030" stroke-width="0.8"/>
<line x1="270.50" y1="294.75" x2="272.70" y2="294.75" stroke="#303030" stroke-width="0.8"/>
<line x1="270.50" y1="267.75" x2="272.70" y2="267.75" stroke="#303030" stroke-width="0.8"/>
<line x1="270.50" y1="240.75" x2="272.70" y2="240.75" stroke="#303030" stroke-width="0.8"/>
<path d="M294.50 361.50V370.50M293.00 361.50H296.00M293.00 370.50H296.00" fill="none" stroke="#1c1c1c" stroke-width="0.8"/>
<path d="M319.50 322.50V370.50M318.00 322.50H321.00M318.00 370.50H321.00" fill="none" stroke="#1c1c1c" stroke-width="0.8"/>
<path d="M344.50 287.50V333.50M343.00 287.50H346.00M343.00 333.50H346.00" fill="none" stroke="#1c1c1c" stroke-width="0.8"/>
<path d="M368.50 283.50V323.50M367.00 283.50H370.00M367.00 323.50H370.00" fill="none" stroke="#1c1c1c" stroke-width="0.8"/>
<path d="M393.50 291.50V319.50M392.00 291.50H395.00M392.00 319.50H395.00" fill="none" stroke="#1c1c1c" stroke-width="0.8"/>
<path d="M417.50 312.50V335.50M416.00 312.50H419.00M416.00 335.50H419.00" fill="none" stroke="#1c1c1c" stroke-width="0.8"/>
<path d="M442.50 360.50V372.50M441.00 360.50H444.00M441.00 372.50H444.00" fill="none" stroke="#1c1c1c" stroke-width="0.8"/>
<rect x="528.45" y="390.25" width="19.60" height="13.50" fill="#4f4f4f" stroke="#404040" stroke-width="0.5"/>
<rect x="552.95" y="376.50" width="19.60" height="27.25" fill="#4f4f4f" stroke="#404040" stroke-width="0.5"/>
<rect x="577.45" y="353.25" width="19.60" height="50.50" fill="#4f4f4f" stroke="#404040" stroke-width="0.5"/>
<rect x="601.95" y="300.00" width="19.60" height="103.75" fill="#4f4f4f" stroke="#404040" stroke-width="0.5"/>
<rect x="626.45" y="296.00" width="19.60" height="107.75" fill="#4f4f4f" stroke="#404040" stroke-width="0.5"/>
<rect x="650.95" y="354.50" width="19.60" height="49.25" fill="#4f4f4f" stroke="#404040" stroke-width="0.5"/>
<rect x="675.45" y="391.25" width="19.60" height="12.50" fill="#4f4f4f" stroke="#404040" stroke-width="0.5"/>
<path d="M515.00 240.25H709.75V403.75" fill="none" stroke="#c6c6c6" stroke-width="0.8"/>
<line x1="538.25" y1="240.25" x2="538.25" y2="242.45" stroke="#c6c6c6" stroke-width="0.7"/>
<line x1="562.75" y1="240.25" x2="562.75" y2="242.45" stroke="#c6c6c6" stroke-width="0.7"/>
<line x1="587.25" y1="240.25" x2="587.25" y2="242.45" stroke="#c6c6c6" stroke-width="0.7"/>
<line x1="611.75" y1="240.25" x2="611.75" y2="242.45" stroke="#c6c6c6" stroke-width="0.7"/>
<line x1="636.25" y1="240.25" x2="636.25" y2="242.45" stroke="#c6c6c6" stroke-width="0.7"/>
<line x1="660.75" y1="240.25" x2="660.75" y2="242.45" stroke="#c6c6c6" stroke-width="0.7"/>
<line x1="685.25" y1="240.25" x2="685.25" y2="242.45" stroke="#c6c6c6" stroke-width="0.7"/>
<line x1="709.75" y1="403.75" x2="707.55" y2="403.75" stroke="#c6c6c6" stroke-width="0.7"/>
<line x1="709.75" y1="376.50" x2="707.55" y2="376.50" stroke="#c6c6c6" stroke-width="0.7"/>
<line x1="709.75" y1="349.25" x2="707.55" y2="349.25" stroke="#c6c6c6" stroke-width="0.7"/>
<line x1="709.75" y1="321.75" x2="707.55" y2="321.75" stroke="#c6c6c6" stroke-width="0.7"/>
<line x1="709.75" y1="294.50" x2="707.55" y2="294.50" stroke="#c6c6c6" stroke-width="0.7"/>
<line x1="709.75" y1="267.25" x2="707.55" y2="267.25" stroke="#c6c6c6" stroke-width="0.7"/>
<line x1="709.75" y1="240.25" x2="707.55" y2="240.25" stroke="#c6c6c6" stroke-width="0.7"/>
<path d="M515.00 240.25V403.75H709.75" fill="none" stroke="#303030" stroke-width="1.1"/>
<line x1="515.00" y1="403.75" x2="517.20" y2="403.75" stroke="#303030" stroke-width="0.8"/>
<line x1="515.00" y1="376.50" x2="517.20" y2="376.50" stroke="#303030" stroke-width="0.8"/>
<line x1="515.00" y1="349.25" x2="517.20" y2="349.25" stroke="#303030" stroke-width="0.8"/>
<line x1="515.00" y1="321.75" x2="517.20" y2="321.75" stroke="#303030" stroke-width="0.8"/>
<line x1="515.00" y1="294.50" x2="517.20" y2="294.50" stroke="#303030" stroke-width="0.8"/>
<line x1="515.00" y1="267.25" x2="517.20" y2="267.25" stroke="#303030" stroke-width="0.8"/>
<line x1="515.00" y1="240.25" x2="517.20" y2="240.25" stroke="#303030" stroke-width="0.8"/>
<path d="M538.50 389.50V390.50M537.00 389.50H540.00M537.00 390.50H540.00" fill="none" stroke="#1c1c1c" stroke-width="0.8"/>
<path d="M562.50 370.50V382.50M561.00 370.50H564.00M561.00 382.50H564.00" fill="none" stroke="#1c1c1c" stroke-width="0.8"/>
<path d="M587.50 346.50V359.50M586.00 346.50H589.00M586.00 359.50H589.00" fill="none" stroke="#1c1c1c" stroke-width="0.8"/>
<path d="M611.50 282.50V317.50M610.00 282.50H613.00M610.00 317.50H613.00" fill="none" stroke="#1c1c1c" stroke-width="0.8"/>
<path d="M636.50 261.50V330.50M635.00 261.50H638.00M635.00 330.50H638.00" fill="none" stroke="#1c1c1c" stroke-width="0.8"/>
<path d="M660.50 316.50V392.50M659.00 316.50H662.00M659.00 392.50H662.00" fill="none" stroke="#1c1c1c" stroke-width="0.8"/>
<path d="M685.50 386.50V395.50M684.00 386.50H687.00M684.00 395.50H687.00" fill="none" stroke="#1c1c1c" stroke-width="0.8"/>
<path d="M20.75 471.50H135.25V567.50" fill="none" stroke="#c6c6c6" stroke-width="0.8"/>
<line x1="20.75" y1="471.50" x2="20.75" y2="472.70" stroke="#c6c6c6" stroke-width="0.7"/>
<line x1="39.83" y1="471.50" x2="39.83" y2="472.70" stroke="#c6c6c6" stroke-width="0.7"/>
<line x1="58.92" y1="471.50" x2="58.92" y2="472.70" stroke="#c6c6c6" stroke-width="0.7"/>
<line x1="78.00" y1="471.50" x2="78.00" y2="472.70" stroke="#c6c6c6" stroke-width="0.7"/>
<line x1="97.08" y1="471.50" x2="97.08" y2="472.70" stroke="#c6c6c6" stroke-width="0.7"/>
<line x1="116.17" y1="471.50" x2="116.17" y2="472.70" stroke="#c6c6c6" stroke-width="0.7"/>
<line x1="135.25" y1="471.50" x2="135.25" y2="472.70" stroke="#c6c6c6" stroke-width="0.7"/>
<line x1="135.25" y1="567.50" x2="134.05" y2="567.50" stroke="#c6c6c6" stroke-width="0.7"/>
<line x1="135.25" y1="548.30" x2="134.05" y2="548.30" stroke="#c6c6c6" stroke-width="0.7"/>
<line x1="135.25" y1="529.10" x2="134.05" y2="529.10" stroke="#c6c6c6" stroke-width="0.7"/>
<line x1="135.25" y1="509.90" x2="134.05" y2="509.90" stroke="#c6c6c6" stroke-width="0.7"/>
<line x1="135.25" y1="490.70" x2="134.05" y2="490.70" stroke="#c6c6c6" stroke-width="0.7"/>
<line x1="135.25" y1="471.50" x2="134.05" y2="471.50" stroke="#c6c6c6" stroke-width="0.7"/>
<path d="M20.75 471.50V567.50H135.25" fill="none" stroke="#444" stroke-width="0.8"/>
<line x1="20.75" y1="567.50" x2="20.75" y2="566.30" stroke="#444" stroke-width="0.7"/>
<line x1="39.83" y1="567.50" x2="39.83" y2="566.30" stroke="#444" stroke-width="0.7"/>
<line x1="58.92" y1="567.50" x2="58.92" y2="566.30" stroke="#444" stroke-width="0.7"/>
<line x1="78.00" y1="567.50" x2="78.00" y2="566.30" stroke="#444" stroke-width="0.7"/>
<line x1="97.08" y1="567.50" x2="97.08" y2="566.30" stroke="#444" stroke-width="0.7"/>
<line x1="116.17" y1="567.50" x2="116.17" y2="566.30" stroke="#444" stroke-width="0.7"/>
<line x1="135.25" y1="567.50" x2="135.25" y2="566.30" stroke="#444" stroke-width="0.7"/>
<line x1="20.75" y1="567.50" x2="21.95" y2="567.50" stroke="#444" stroke-width="0.8"/>
<line x1="20.75" y1="548.30" x2="21.95" y2="548.30" stroke="#444" stroke-width="0.8"/>
<line x1="20.75" y1="529.10" x2="21.95" y2="529.10" stroke="#444" stroke-width="0.8"/>
<line x1="20.75" y1="509.90" x2="21.95" y2="509.90" stroke="#444" stroke-width="0.8"/>
<line x1="20.75" y1="490.70" x2="21.95" y2="490.70" stroke="#444" stroke-width="0.8"/>
<line x1="20.75" y1="471.50" x2="21.95" y2="471.50" stroke="#444" stroke-width="0.8"/>
<path d="M28.50 564.50V566.50M27.50 564.50H29.50M27.50 566.50H29.50" fill="none" stroke="#333" stroke-width="0.7"/>
<path d="M32.50 560.50V564.50M31.50 560.50H33.50M31.50 564.50H33.50" fill="none" stroke="#333" stroke-width="0.7"/>
<path d="M36.50 554.50V562.50M35.50 554.50H37.50M35.50 562.50H37.50" fill="none" stroke="#333" stroke-width="0.7"/>
<path d="M39.50 560.50V564.50M38.50 560.50H40.50M38.50 564.50H40.50" fill="none" stroke="#333" stroke-width="0.7"/>
<path d="M43.50 553.50V562.50M42.50 553.50H44.50M42.50 562.50H44.50" fill="none" stroke="#333" stroke-width="0.7"/>
<path d="M47.50 550.50V559.50M46.50 550.50H48.50M46.50 559.50H48.50" fill="none" stroke="#333" stroke-width="0.7"/>
<path d="M51.50 539.50V557.50M50.50 539.50H52.50M50.50 557.50H52.50" fill="none" stroke="#333" stroke-width="0.7"/>
<path d="M54.50 485.50V534.50M53.50 485.50H55.50M53.50 534.50H55.50" fill="none" stroke="#333" stroke-width="0.7"/>
<path d="M58.50 480.50V518.50M57.50 480.50H59.50M57.50 518.50H59.50" fill="none" stroke="#333" stroke-width="0.7"/>
<path d="M62.50 486.50V513.50M61.50 486.50H63.50M61.50 513.50H63.50" fill="none" stroke="#333" stroke-width="0.7"/>
<path d="M66.50 478.50V522.50M65.50 478.50H67.50M65.50 522.50H67.50" fill="none" stroke="#333" stroke-width="0.7"/>
<path d="M70.50 497.50V532.50M69.50 497.50H71.50M69.50 532.50H71.50" fill="none" stroke="#333" stroke-width="0.7"/>
<path d="M74.50 507.50V541.50M73.50 507.50H75.50M73.50 541.50H75.50" fill="none" stroke="#333" stroke-width="0.7"/>
<path d="M78.50 516.50V540.50M77.50 516.50H79.50M77.50 540.50H79.50" fill="none" stroke="#333" stroke-width="0.7"/>
<path d="M81.50 504.50V550.50M80.50 504.50H82.50M80.50 550.50H82.50" fill="none" stroke="#333" stroke-width="0.7"/>
<path d="M85.50 511.50V558.50M84.50 511.50H86.50M84.50 558.50H86.50" fill="none" stroke="#333" stroke-width="0.7"/>
<path d="M89.50 546.50V560.50M88.50 546.50H90.50M88.50 560.50H90.50" fill="none" stroke="#333" stroke-width="0.7"/>
<path d="M93.50 559.50V564.50M92.50 559.50H94.50M92.50 564.50H94.50" fill="none" stroke="#333" stroke-width="0.7"/>
<path d="M96.50 563.50V566.50M95.50 563.50H97.50M95.50 566.50H97.50" fill="none" stroke="#333" stroke-width="0.7"/>
<path d="M24.50 567.50C25.15 567.17 27.08 566.33 28.38 565.50C29.67 564.67 30.98 563.54 32.25 562.50C33.52 561.46 34.75 559.17 36.00 559.25C37.25 559.33 38.46 563.21 39.75 563.00C41.04 562.79 42.46 559.58 43.75 558.00C45.04 556.42 46.25 555.17 47.50 553.50C48.75 551.83 50.00 555.17 51.25 548.00C52.50 540.83 53.71 518.62 55.00 510.50C56.29 502.38 57.71 500.92 59.00 499.25C60.29 497.58 61.50 500.42 62.75 500.50C64.00 500.58 65.25 497.25 66.50 499.75C67.75 502.25 68.96 511.21 70.25 515.50C71.54 519.79 72.96 523.42 74.25 525.50C75.54 527.58 76.75 527.50 78.00 528.00C79.25 528.50 80.50 527.04 81.75 528.50C83.00 529.96 84.21 532.46 85.50 536.75C86.79 541.04 88.21 550.00 89.50 554.25C90.79 558.50 92.00 560.38 93.25 562.25C94.50 564.12 95.71 564.62 97.00 565.50C98.29 566.38 100.33 567.17 101.00 567.50" fill="none" stroke="#262626" stroke-width="0.7"/>
<clipPath id="cpB"><rect x="0" y="583.5" width="150" height="170"/></clipPath>
<g clip-path="url(#cpB)" fill="none" stroke="#dedede" stroke-width="0.55">
<path d="M14.50 592.40L28.00 572.60L141.00 577.40"/>
<path d="M14.50 606.60L28.00 586.80L141.00 591.60"/>
<path d="M14.50 620.50L28.00 600.70L141.00 605.50"/>
<path d="M14.50 635.30L28.00 615.50L141.00 620.30"/>
<path d="M14.50 649.30L28.00 629.50L141.00 634.30"/>
<path d="M14.50 663.40L28.00 643.60L141.00 648.40"/>
<path d="M14.50 677.60L28.00 657.80L141.00 662.60"/>
<path d="M14.50 691.50L28.00 671.70L141.00 676.50"/>
<path d="M14.50 706.00L28.00 686.20L141.00 691.00"/>
<path d="M14.50 720.20L28.00 700.40L141.00 705.20"/>
<path d="M28.00 580V720.00"/>
<path d="M33.10 580V720.24"/>
<path d="M47.50 580V720.93"/>
<path d="M62.00 580V721.62"/>
<path d="M76.40 580V722.31"/>
<path d="M90.80 580V723.00"/>
<path d="M105.30 580V723.69"/>
<path d="M119.70 580V724.38"/>
<path d="M134.20 580V725.08"/>
<path d="M141.00 580V725.40"/>
<path d="M17.70 583.11V735.11"/>
<path d="M20.00 579.73V731.73"/>
<path d="M22.80 575.63V727.63"/>
<path d="M24.60 572.99V724.99"/>
<path d="M33.10 720.24L19.40 740.36"/>
<path d="M47.50 720.93L33.82 741.08"/>
<path d="M62.00 721.62L48.33 741.82"/>
<path d="M76.40 722.31L62.74 742.54"/>
<path d="M90.80 723.00L77.16 743.27"/>
<path d="M105.30 723.69L91.67 744.00"/>
<path d="M119.70 724.38L106.08 744.73"/>
<path d="M134.20 725.08L120.59 745.46"/>
<path d="M17.70 735.11L130.62 740.96"/>
<path d="M20.00 731.73L132.94 737.49"/>
<path d="M22.80 727.63L135.76 733.26"/>
<path d="M24.60 724.99L137.57 730.54"/>
<path d="M28.00 720.00L141.00 725.40"/>
</g>
<path d="M14.5 596.5V740.0L127.4 745.8L141.5 725.4" fill="none" stroke="#4a4a4a" stroke-width="0.7"/>
<line x1="10.90" y1="606.60" x2="14.50" y2="606.60" stroke="#4a4a4a" stroke-width="0.6"/>
<line x1="10.90" y1="620.50" x2="14.50" y2="620.50" stroke="#4a4a4a" stroke-width="0.6"/>
<line x1="10.90" y1="635.30" x2="14.50" y2="635.30" stroke="#4a4a4a" stroke-width="0.6"/>
<line x1="10.90" y1="649.30" x2="14.50" y2="649.30" stroke="#4a4a4a" stroke-width="0.6"/>
<line x1="10.90" y1="663.40" x2="14.50" y2="663.40" stroke="#4a4a4a" stroke-width="0.6"/>
<line x1="10.90" y1="677.60" x2="14.50" y2="677.60" stroke="#4a4a4a" stroke-width="0.6"/>
<line x1="10.90" y1="691.50" x2="14.50" y2="691.50" stroke="#4a4a4a" stroke-width="0.6"/>
<line x1="10.90" y1="706.00" x2="14.50" y2="706.00" stroke="#4a4a4a" stroke-width="0.6"/>
<line x1="10.90" y1="720.20" x2="14.50" y2="720.20" stroke="#4a4a4a" stroke-width="0.6"/>
<line x1="10.90" y1="734.40" x2="14.50" y2="734.40" stroke="#4a4a4a" stroke-width="0.6"/>
<line x1="19.40" y1="740.36" x2="18.90" y2="742.36" stroke="#4a4a4a" stroke-width="0.6"/>
<line x1="33.82" y1="741.08" x2="33.32" y2="743.08" stroke="#4a4a4a" stroke-width="0.6"/>
<line x1="48.33" y1="741.82" x2="47.83" y2="743.82" stroke="#4a4a4a" stroke-width="0.6"/>
<line x1="62.74" y1="742.54" x2="62.24" y2="744.54" stroke="#4a4a4a" stroke-width="0.6"/>
<line x1="77.16" y1="743.27" x2="76.66" y2="745.27" stroke="#4a4a4a" stroke-width="0.6"/>
<line x1="91.67" y1="744.00" x2="91.17" y2="746.00" stroke="#4a4a4a" stroke-width="0.6"/>
<line x1="106.08" y1="744.73" x2="105.58" y2="746.73" stroke="#4a4a4a" stroke-width="0.6"/>
<line x1="120.59" y1="745.46" x2="120.09" y2="747.46" stroke="#4a4a4a" stroke-width="0.6"/>
<line x1="129.29" y1="743.06" x2="131.49" y2="743.56" stroke="#4a4a4a" stroke-width="0.6"/>
<line x1="132.73" y1="738.09" x2="134.93" y2="738.59" stroke="#4a4a4a" stroke-width="0.6"/>
<line x1="136.17" y1="733.11" x2="138.37" y2="733.61" stroke="#4a4a4a" stroke-width="0.6"/>
<line x1="139.61" y1="728.14" x2="141.81" y2="728.64" stroke="#4a4a4a" stroke-width="0.6"/>
<path d="M79.37 690.04L79.79 680.54L80.63 673.15L82.32 664.71" fill="none" stroke="#14f014" stroke-width="2.5" stroke-linecap="round" stroke-linejoin="round"/>
<path d="M82.32 664.71L82.96 655.21L82.96 644.66L82.74 634.10" fill="none" stroke="#14f014" stroke-width="1.6" stroke-linecap="round" stroke-linejoin="round"/>
<path d="M82.74 634.10L86.54 624.60L90.77 615.11L99.21 598.22L103.43 590.20L106.60 585.55" fill="none" stroke="#14f014" stroke-width="1.3" stroke-linecap="round" stroke-linejoin="round"/>
<path d="M82.74 634.53L81.27 628.83L80.21 625.24" fill="none" stroke="#14f014" stroke-width="1.2" stroke-linecap="round" stroke-linejoin="round"/>
<path d="M81.90 665.77L80.21 655.21L79.16 646.77L75.99 636.64L72.82 628.19L70.08 625.24" fill="none" stroke="#14f014" stroke-width="1.4" stroke-linecap="round" stroke-linejoin="round"/>
<path d="M72.82 628.19L73.25 620.38" fill="none" stroke="#14f014" stroke-width="1.1" stroke-linecap="round" stroke-linejoin="round"/>
<path d="M79.16 646.77L78.52 636.21L78.52 631.57" fill="none" stroke="#14f014" stroke-width="1.2" stroke-linecap="round" stroke-linejoin="round"/>
<path d="M78.52 636.21L81.27 630.30" fill="none" stroke="#14f014" stroke-width="1.1" stroke-linecap="round" stroke-linejoin="round"/>
<path d="M81.06 668.93L77.68 661.54L74.93 657.32L68.60 655.21L61.85 655.21" fill="none" stroke="#14f014" stroke-width="1.3" stroke-linecap="round" stroke-linejoin="round"/>
<path d="M77.04 664.71L73.46 659.43" fill="none" stroke="#14f014" stroke-width="1.1" stroke-linecap="round" stroke-linejoin="round"/>
<path d="M82.74 666.19L87.60 657.74L92.88 650.99L103.43 640.01L113.98 629.88L126.65 618.91L135.73 611.31" fill="none" stroke="#14f014" stroke-width="1.3" stroke-linecap="round" stroke-linejoin="round"/>
<path d="M86.54 658.38L90.77 650.99L94.99 645.08L103.43 637.27" fill="none" stroke="#14f014" stroke-width="1.2" stroke-linecap="round" stroke-linejoin="round"/>
<path d="M85.49 659.43L89.71 649.93" fill="none" stroke="#14f014" stroke-width="1.1" stroke-linecap="round" stroke-linejoin="round"/>
<path d="M82.74 667.24L89.71 662.60L94.99 660.49L99.21 661.54L102.37 665.34L104.91 672.10L105.54 677.37" fill="none" stroke="#14f014" stroke-width="1.3" stroke-linecap="round" stroke-linejoin="round"/>
<path d="M82.74 668.30L90.77 667.88L97.52 667.24" fill="none" stroke="#14f014" stroke-width="1.2" stroke-linecap="round" stroke-linejoin="round"/>
<path d="M79.37 693.21L72.82 693.63L67.55 693.21L60.16 695.74L50.66 699.54L40.11 703.76L28.50 708.40" fill="none" stroke="#14f014" stroke-width="1.4" stroke-linecap="round" stroke-linejoin="round"/>
<path d="M67.12 693.21L69.66 691.94" fill="none" stroke="#14f014" stroke-width="1.1" stroke-linecap="round" stroke-linejoin="round"/>
<path d="M79.37 694.26L76.41 701.65L73.88 705.87L70.71 712.20L67.55 718.54L61.21 729.09L57.63 737.96" fill="none" stroke="#14f014" stroke-width="1.5" stroke-linecap="round" stroke-linejoin="round"/>
<path d="M71.77 710.09L67.12 712.63L62.27 715.58" fill="none" stroke="#14f014" stroke-width="1.2" stroke-linecap="round" stroke-linejoin="round"/>
<path d="M70.71 712.20L71.35 722.12" fill="none" stroke="#14f014" stroke-width="1.2" stroke-linecap="round" stroke-linejoin="round"/>
<path d="M79.37 694.26L80.21 703.76L81.27 710.09L82.74 718.54L83.80 726.98L84.64 737.53" fill="none" stroke="#14f014" stroke-width="1.5" stroke-linecap="round" stroke-linejoin="round"/>
<path d="M81.27 713.26L79.16 720.65L76.62 725.29" fill="none" stroke="#14f014" stroke-width="1.2" stroke-linecap="round" stroke-linejoin="round"/>
<path d="M81.90 711.78L86.12 719.59L89.71 724.87L92.24 731.20L93.51 734.58" fill="none" stroke="#14f014" stroke-width="1.2" stroke-linecap="round" stroke-linejoin="round"/>
<path d="M90.34 725.92L93.93 725.29" fill="none" stroke="#14f014" stroke-width="1.1" stroke-linecap="round" stroke-linejoin="round"/>
<path d="M79.37 692.78L84.43 696.37L88.65 699.54L99.21 705.87L111.87 713.26L124.54 719.17" fill="none" stroke="#14f014" stroke-width="1.6" stroke-linecap="round" stroke-linejoin="round"/>
<path d="M88.65 699.54L92.88 697.01L94.35 694.89" fill="none" stroke="#14f014" stroke-width="1.1" stroke-linecap="round" stroke-linejoin="round"/>
<path d="M90.34 701.23L92.88 707.98L94.14 714.31" fill="none" stroke="#14f014" stroke-width="1.2" stroke-linecap="round" stroke-linejoin="round"/>
<path d="M96.68 704.39L99.63 713.26L101.32 721.70" fill="none" stroke="#14f014" stroke-width="1.2" stroke-linecap="round" stroke-linejoin="round"/>
<path d="M103.43 708.40L107.65 711.15L111.24 714.53" fill="none" stroke="#14f014" stroke-width="1.2" stroke-linecap="round" stroke-linejoin="round"/>
<path d="M80.21 693.63L86.54 695.74L93.93 701.65" fill="none" stroke="#14f014" stroke-width="1.3" stroke-linecap="round" stroke-linejoin="round"/>
<circle cx="79.37" cy="691.09" r="2.1" fill="#000"/>
<path d="M21.25 758.25H141.75V858.25" fill="none" stroke="#c6c6c6" stroke-width="0.8"/>
<line x1="21.25" y1="758.25" x2="21.25" y2="759.45" stroke="#c6c6c6" stroke-width="0.7"/>
<line x1="51.38" y1="758.25" x2="51.38" y2="759.45" stroke="#c6c6c6" stroke-width="0.7"/>
<line x1="81.50" y1="758.25" x2="81.50" y2="759.45" stroke="#c6c6c6" stroke-width="0.7"/>
<line x1="111.62" y1="758.25" x2="111.62" y2="759.45" stroke="#c6c6c6" stroke-width="0.7"/>
<line x1="141.75" y1="758.25" x2="141.75" y2="759.45" stroke="#c6c6c6" stroke-width="0.7"/>
<line x1="141.75" y1="858.25" x2="140.55" y2="858.25" stroke="#c6c6c6" stroke-width="0.7"/>
<line x1="141.75" y1="833.25" x2="140.55" y2="833.25" stroke="#c6c6c6" stroke-width="0.7"/>
<line x1="141.75" y1="808.25" x2="140.55" y2="808.25" stroke="#c6c6c6" stroke-width="0.7"/>
<line x1="141.75" y1="783.25" x2="140.55" y2="783.25" stroke="#c6c6c6" stroke-width="0.7"/>
<line x1="141.75" y1="758.25" x2="140.55" y2="758.25" stroke="#c6c6c6" stroke-width="0.7"/>
<path d="M21.25 758.25V858.25H141.75" fill="none" stroke="#858585" stroke-width="1.9"/>
<line x1="21.25" y1="858.25" x2="21.25" y2="857.05" stroke="#858585" stroke-width="0.7"/>
<line x1="51.38" y1="858.25" x2="51.38" y2="857.05" stroke="#858585" stroke-width="0.7"/>
<line x1="81.50" y1="858.25" x2="81.50" y2="857.05" stroke="#858585" stroke-width="0.7"/>
<line x1="111.62" y1="858.25" x2="111.62" y2="857.05" stroke="#858585" stroke-width="0.7"/>
<line x1="141.75" y1="858.25" x2="141.75" y2="857.05" stroke="#858585" stroke-width="0.7"/>
<line x1="21.25" y1="858.25" x2="22.45" y2="858.25" stroke="#858585" stroke-width="0.8"/>
<line x1="21.25" y1="833.25" x2="22.45" y2="833.25" stroke="#858585" stroke-width="0.8"/>
<line x1="21.25" y1="808.25" x2="22.45" y2="808.25" stroke="#858585" stroke-width="0.8"/>
<line x1="21.25" y1="783.25" x2="22.45" y2="783.25" stroke="#858585" stroke-width="0.8"/>
<line x1="21.25" y1="758.25" x2="22.45" y2="758.25" stroke="#858585" stroke-width="0.8"/>
<path d="M33.50 854.50V858.50M32.00 854.50H35.00M32.00 858.50H35.00" fill="none" stroke="#c0c0c0" stroke-width="0.9"/>
<path d="M39.50 834.50V845.50M38.00 834.50H41.00M38.00 845.50H41.00" fill="none" stroke="#c0c0c0" stroke-width="0.9"/>
<path d="M45.50 819.50V838.50M44.00 819.50H47.00M44.00 838.50H47.00" fill="none" stroke="#c0c0c0" stroke-width="0.9"/>
<path d="M51.50 801.50V824.50M50.00 801.50H53.00M50.00 824.50H53.00" fill="none" stroke="#c0c0c0" stroke-width="0.9"/>
<path d="M57.50 770.50V802.50M56.00 770.50H59.00M56.00 802.50H59.00" fill="none" stroke="#c0c0c0" stroke-width="0.9"/>
<path d="M63.50 796.50V818.50M62.00 796.50H65.00M62.00 818.50H65.00" fill="none" stroke="#c0c0c0" stroke-width="0.9"/>
<path d="M69.50 814.50V830.50M68.00 814.50H71.00M68.00 830.50H71.00" fill="none" stroke="#c0c0c0" stroke-width="0.9"/>
<path d="M75.50 818.50V834.50M74.00 818.50H77.00M74.00 834.50H77.00" fill="none" stroke="#c0c0c0" stroke-width="0.9"/>
<path d="M81.50 828.50V840.50M80.00 828.50H83.00M80.00 840.50H83.00" fill="none" stroke="#c0c0c0" stroke-width="0.9"/>
<path d="M87.50 832.50V845.50M86.00 832.50H89.00M86.00 845.50H89.00" fill="none" stroke="#c0c0c0" stroke-width="0.9"/>
<path d="M93.50 843.50V852.50M92.00 843.50H95.00M92.00 852.50H95.00" fill="none" stroke="#c0c0c0" stroke-width="0.9"/>
<path d="M99.50 848.50V854.50M98.00 848.50H101.00M98.00 854.50H101.00" fill="none" stroke="#c0c0c0" stroke-width="0.9"/>
<path d="M21.25 858.25C22.25 858.17 25.58 857.92 27.25 857.75C28.92 857.58 30.25 857.54 31.25 857.25C32.25 856.96 32.42 857.29 33.25 856.00C34.08 854.71 35.25 852.04 36.25 849.50C37.25 846.96 37.75 844.08 39.25 840.75C40.75 837.42 43.25 833.46 45.25 829.50C47.25 825.54 49.71 822.00 51.25 817.00C52.79 812.00 53.46 804.71 54.50 799.50C55.54 794.29 56.50 786.79 57.50 785.75C58.50 784.71 59.50 789.71 60.50 793.25C61.50 796.79 62.50 803.33 63.50 807.00C64.50 810.67 65.50 812.96 66.50 815.25C67.50 817.54 68.00 818.79 69.50 820.75C71.00 822.71 73.50 824.71 75.50 827.00C77.50 829.29 79.50 832.42 81.50 834.50C83.50 836.58 85.50 837.21 87.50 839.50C89.50 841.79 91.50 846.17 93.50 848.25C95.50 850.33 98.00 850.88 99.50 852.00C101.00 853.12 101.50 854.04 102.50 855.00C103.50 855.96 104.67 857.21 105.50 857.75C106.33 858.29 107.17 858.17 107.50 858.25" fill="none" stroke="#5c5c5c" stroke-width="0.6"/>
<rect x="187.00" y="610.25" width="17.50" height="21.00" fill="#4f4f4f" stroke="#404040" stroke-width="0.5"/>
<rect x="208.50" y="600.00" width="17.50" height="31.25" fill="#4f4f4f" stroke="#404040" stroke-width="0.5"/>
<rect x="230.00" y="546.50" width="17.50" height="84.75" fill="#4f4f4f" stroke="#404040" stroke-width="0.5"/>
<rect x="251.50" y="550.75" width="17.50" height="80.50" fill="#4f4f4f" stroke="#404040" stroke-width="0.5"/>
<rect x="273.00" y="534.00" width="17.50" height="97.25" fill="#4f4f4f" stroke="#404040" stroke-width="0.5"/>
<rect x="294.50" y="577.75" width="17.50" height="53.50" fill="#4f4f4f" stroke="#404040" stroke-width="0.5"/>
<rect x="316.00" y="596.00" width="17.50" height="35.25" fill="#4f4f4f" stroke="#404040" stroke-width="0.5"/>
<path d="M174.25 489.75H346.50V631.25" fill="none" stroke="#c6c6c6" stroke-width="0.8"/>
<line x1="195.75" y1="489.75" x2="195.75" y2="491.95" stroke="#c6c6c6" stroke-width="0.7"/>
<line x1="217.25" y1="489.75" x2="217.25" y2="491.95" stroke="#c6c6c6" stroke-width="0.7"/>
<line x1="238.75" y1="489.75" x2="238.75" y2="491.95" stroke="#c6c6c6" stroke-width="0.7"/>
<line x1="260.25" y1="489.75" x2="260.25" y2="491.95" stroke="#c6c6c6" stroke-width="0.7"/>
<line x1="281.75" y1="489.75" x2="281.75" y2="491.95" stroke="#c6c6c6" stroke-width="0.7"/>
<line x1="303.25" y1="489.75" x2="303.25" y2="491.95" stroke="#c6c6c6" stroke-width="0.7"/>
<line x1="324.75" y1="489.75" x2="324.75" y2="491.95" stroke="#c6c6c6" stroke-width="0.7"/>
<line x1="346.50" y1="631.25" x2="344.30" y2="631.25" stroke="#c6c6c6" stroke-width="0.7"/>
<line x1="346.50" y1="607.50" x2="344.30" y2="607.50" stroke="#c6c6c6" stroke-width="0.7"/>
<line x1="346.50" y1="584.00" x2="344.30" y2="584.00" stroke="#c6c6c6" stroke-width="0.7"/>
<line x1="346.50" y1="560.50" x2="344.30" y2="560.50" stroke="#c6c6c6" stroke-width="0.7"/>
<line x1="346.50" y1="536.75" x2="344.30" y2="536.75" stroke="#c6c6c6" stroke-width="0.7"/>
<line x1="346.50" y1="513.25" x2="344.30" y2="513.25" stroke="#c6c6c6" stroke-width="0.7"/>
<line x1="346.50" y1="489.75" x2="344.30" y2="489.75" stroke="#c6c6c6" stroke-width="0.7"/>
<path d="M174.25 489.75V631.25H346.50" fill="none" stroke="#303030" stroke-width="1.1"/>
<line x1="174.25" y1="631.25" x2="176.45" y2="631.25" stroke="#303030" stroke-width="0.8"/>
<line x1="174.25" y1="607.50" x2="176.45" y2="607.50" stroke="#303030" stroke-width="0.8"/>
<line x1="174.25" y1="584.00" x2="176.45" y2="584.00" stroke="#303030" stroke-width="0.8"/>
<line x1="174.25" y1="560.50" x2="176.45" y2="560.50" stroke="#303030" stroke-width="0.8"/>
<line x1="174.25" y1="536.75" x2="176.45" y2="536.75" stroke="#303030" stroke-width="0.8"/>
<line x1="174.25" y1="513.25" x2="176.45" y2="513.25" stroke="#303030" stroke-width="0.8"/>
<line x1="174.25" y1="489.75" x2="176.45" y2="489.75" stroke="#303030" stroke-width="0.8"/>
<path d="M195.50 605.50V615.50M194.00 605.50H197.00M194.00 615.50H197.00" fill="none" stroke="#2a2a2a" stroke-width="0.65"/>
<path d="M217.50 594.50V604.50M216.00 594.50H219.00M216.00 604.50H219.00" fill="none" stroke="#2a2a2a" stroke-width="0.65"/>
<path d="M238.50 538.50V554.50M237.00 538.50H240.00M237.00 554.50H240.00" fill="none" stroke="#2a2a2a" stroke-width="0.65"/>
<path d="M260.50 546.50V554.50M259.00 546.50H262.00M259.00 554.50H262.00" fill="none" stroke="#2a2a2a" stroke-width="0.65"/>
<path d="M281.50 529.50V538.50M280.00 529.50H283.00M280.00 538.50H283.00" fill="none" stroke="#2a2a2a" stroke-width="0.65"/>
<path d="M303.50 568.50V587.50M302.00 568.50H305.00M302.00 587.50H305.00" fill="none" stroke="#2a2a2a" stroke-width="0.65"/>
<path d="M324.50 579.50V612.50M323.00 579.50H326.00M323.00 612.50H326.00" fill="none" stroke="#2a2a2a" stroke-width="0.65"/>
<rect x="389.75" y="624.50" width="17.50" height="7.00" fill="#4f4f4f" stroke="#404040" stroke-width="0.5"/>
<rect x="411.50" y="618.50" width="17.50" height="13.00" fill="#4f4f4f" stroke="#404040" stroke-width="0.5"/>
<rect x="433.25" y="605.00" width="17.50" height="26.50" fill="#4f4f4f" stroke="#404040" stroke-width="0.5"/>
<rect x="455.00" y="581.00" width="17.50" height="50.50" fill="#4f4f4f" stroke="#404040" stroke-width="0.5"/>
<rect x="476.75" y="532.75" width="17.50" height="98.75" fill="#4f4f4f" stroke="#404040" stroke-width="0.5"/>
<rect x="498.50" y="582.25" width="17.50" height="49.25" fill="#4f4f4f" stroke="#404040" stroke-width="0.5"/>
<rect x="520.25" y="595.00" width="17.50" height="36.50" fill="#4f4f4f" stroke="#404040" stroke-width="0.5"/>
<path d="M376.75 486.00H550.75V631.50" fill="none" stroke="#c6c6c6" stroke-width="0.8"/>
<line x1="398.50" y1="486.00" x2="398.50" y2="488.20" stroke="#c6c6c6" stroke-width="0.7"/>
<line x1="420.25" y1="486.00" x2="420.25" y2="488.20" stroke="#c6c6c6" stroke-width="0.7"/>
<line x1="442.00" y1="486.00" x2="442.00" y2="488.20" stroke="#c6c6c6" stroke-width="0.7"/>
<line x1="463.75" y1="486.00" x2="463.75" y2="488.20" stroke="#c6c6c6" stroke-width="0.7"/>
<line x1="485.50" y1="486.00" x2="485.50" y2="488.20" stroke="#c6c6c6" stroke-width="0.7"/>
<line x1="507.25" y1="486.00" x2="507.25" y2="488.20" stroke="#c6c6c6" stroke-width="0.7"/>
<line x1="529.00" y1="486.00" x2="529.00" y2="488.20" stroke="#c6c6c6" stroke-width="0.7"/>
<line x1="550.75" y1="631.50" x2="548.55" y2="631.50" stroke="#c6c6c6" stroke-width="0.7"/>
<line x1="550.75" y1="595.50" x2="548.55" y2="595.50" stroke="#c6c6c6" stroke-width="0.7"/>
<line x1="550.75" y1="559.00" x2="548.55" y2="559.00" stroke="#c6c6c6" stroke-width="0.7"/>
<line x1="550.75" y1="522.50" x2="548.55" y2="522.50" stroke="#c6c6c6" stroke-width="0.7"/>
<line x1="550.75" y1="486.00" x2="548.55" y2="486.00" stroke="#c6c6c6" stroke-width="0.7"/>
<path d="M376.75 486.00V631.50H550.75" fill="none" stroke="#303030" stroke-width="1.1"/>
<line x1="376.75" y1="631.50" x2="378.95" y2="631.50" stroke="#303030" stroke-width="0.8"/>
<line x1="376.75" y1="595.50" x2="378.95" y2="595.50" stroke="#303030" stroke-width="0.8"/>
<line x1="376.75" y1="559.00" x2="378.95" y2="559.00" stroke="#303030" stroke-width="0.8"/>
<line x1="376.75" y1="522.50" x2="378.95" y2="522.50" stroke="#303030" stroke-width="0.8"/>
<line x1="376.75" y1="486.00" x2="378.95" y2="486.00" stroke="#303030" stroke-width="0.8"/>
<path d="M398.50 624.50V624.50M397.00 624.50H400.00M397.00 624.50H400.00" fill="none" stroke="#2a2a2a" stroke-width="0.65"/>
<path d="M420.50 616.50V620.50M419.00 616.50H422.00M419.00 620.50H422.00" fill="none" stroke="#2a2a2a" stroke-width="0.65"/>
<path d="M442.50 603.50V606.50M441.00 603.50H444.00M441.00 606.50H444.00" fill="none" stroke="#2a2a2a" stroke-width="0.65"/>
<path d="M463.50 577.50V583.50M462.00 577.50H465.00M462.00 583.50H465.00" fill="none" stroke="#2a2a2a" stroke-width="0.65"/>
<path d="M485.50 526.50V538.50M484.00 526.50H487.00M484.00 538.50H487.00" fill="none" stroke="#2a2a2a" stroke-width="0.65"/>
<path d="M507.50 556.50V607.50M506.00 556.50H509.00M506.00 607.50H509.00" fill="none" stroke="#2a2a2a" stroke-width="0.65"/>
<path d="M528.50 584.50V606.50M527.00 584.50H530.00M527.00 606.50H530.00" fill="none" stroke="#2a2a2a" stroke-width="0.65"/>
<rect x="594.00" y="508.00" width="17.00" height="123.75" fill="#4f4f4f" stroke="#404040" stroke-width="0.5"/>
<rect x="614.94" y="568.75" width="17.00" height="63.00" fill="#4f4f4f" stroke="#404040" stroke-width="0.5"/>
<rect x="635.88" y="598.50" width="17.00" height="33.25" fill="#4f4f4f" stroke="#404040" stroke-width="0.5"/>
<rect x="656.82" y="614.50" width="17.00" height="17.25" fill="#4f4f4f" stroke="#404040" stroke-width="0.5"/>
<rect x="677.76" y="620.75" width="17.00" height="11.00" fill="#4f4f4f" stroke="#404040" stroke-width="0.5"/>
<rect x="698.70" y="624.50" width="17.00" height="7.25" fill="#4f4f4f" stroke="#404040" stroke-width="0.5"/>
<rect x="719.64" y="625.50" width="17.00" height="6.25" fill="#4f4f4f" stroke="#404040" stroke-width="0.5"/>
<path d="M581.75 495.75H748.75V631.75" fill="none" stroke="#c6c6c6" stroke-width="0.8"/>
<line x1="602.50" y1="495.75" x2="602.50" y2="497.95" stroke="#c6c6c6" stroke-width="0.7"/>
<line x1="623.44" y1="495.75" x2="623.44" y2="497.95" stroke="#c6c6c6" stroke-width="0.7"/>
<line x1="644.38" y1="495.75" x2="644.38" y2="497.95" stroke="#c6c6c6" stroke-width="0.7"/>
<line x1="665.32" y1="495.75" x2="665.32" y2="497.95" stroke="#c6c6c6" stroke-width="0.7"/>
<line x1="686.26" y1="495.75" x2="686.26" y2="497.95" stroke="#c6c6c6" stroke-width="0.7"/>
<line x1="707.20" y1="495.75" x2="707.20" y2="497.95" stroke="#c6c6c6" stroke-width="0.7"/>
<line x1="728.14" y1="495.75" x2="728.14" y2="497.95" stroke="#c6c6c6" stroke-width="0.7"/>
<line x1="748.75" y1="631.75" x2="746.55" y2="631.75" stroke="#c6c6c6" stroke-width="0.7"/>
<line x1="748.75" y1="586.50" x2="746.55" y2="586.50" stroke="#c6c6c6" stroke-width="0.7"/>
<line x1="748.75" y1="541.00" x2="746.55" y2="541.00" stroke="#c6c6c6" stroke-width="0.7"/>
<line x1="748.75" y1="495.75" x2="746.55" y2="495.75" stroke="#c6c6c6" stroke-width="0.7"/>
<path d="M581.75 495.75V631.75H748.75" fill="none" stroke="#303030" stroke-width="1.1"/>
<line x1="581.75" y1="631.75" x2="583.95" y2="631.75" stroke="#303030" stroke-width="0.8"/>
<line x1="581.75" y1="586.50" x2="583.95" y2="586.50" stroke="#303030" stroke-width="0.8"/>
<line x1="581.75" y1="541.00" x2="583.95" y2="541.00" stroke="#303030" stroke-width="0.8"/>
<line x1="581.75" y1="495.75" x2="583.95" y2="495.75" stroke="#303030" stroke-width="0.8"/>
<path d="M602.50 496.50V518.50M601.00 496.50H604.00M601.00 518.50H604.00" fill="none" stroke="#2a2a2a" stroke-width="0.65"/>
<path d="M623.50 557.50V579.50M622.00 557.50H625.00M622.00 579.50H625.00" fill="none" stroke="#2a2a2a" stroke-width="0.65"/>
<path d="M644.50 591.50V605.50M643.00 591.50H646.00M643.00 605.50H646.00" fill="none" stroke="#2a2a2a" stroke-width="0.65"/>
<path d="M665.50 608.50V620.50M664.00 608.50H667.00M664.00 620.50H667.00" fill="none" stroke="#2a2a2a" stroke-width="0.65"/>
<path d="M686.50 618.50V623.50M685.00 618.50H688.00M685.00 623.50H688.00" fill="none" stroke="#2a2a2a" stroke-width="0.65"/>
<path d="M707.50 620.50V628.50M706.00 620.50H709.00M706.00 628.50H709.00" fill="none" stroke="#2a2a2a" stroke-width="0.65"/>
<path d="M728.50 621.50V630.50M727.00 621.50H730.00M727.00 630.50H730.00" fill="none" stroke="#2a2a2a" stroke-width="0.65"/>
<rect x="191.00" y="788.00" width="23.00" height="41.25" fill="#4f4f4f" stroke="#404040" stroke-width="0.5"/>
<rect x="219.75" y="778.00" width="23.00" height="51.25" fill="#4f4f4f" stroke="#404040" stroke-width="0.5"/>
<rect x="248.50" y="730.50" width="23.00" height="98.75" fill="#4f4f4f" stroke="#404040" stroke-width="0.5"/>
<rect x="277.25" y="727.00" width="23.00" height="102.25" fill="#4f4f4f" stroke="#404040" stroke-width="0.5"/>
<rect x="306.00" y="775.75" width="23.00" height="53.50" fill="#4f4f4f" stroke="#404040" stroke-width="0.5"/>
<path d="M174.25 687.50H346.50V829.25" fill="none" stroke="#c6c6c6" stroke-width="0.8"/>
<line x1="202.50" y1="687.50" x2="202.50" y2="689.70" stroke="#c6c6c6" stroke-width="0.7"/>
<line x1="231.25" y1="687.50" x2="231.25" y2="689.70" stroke="#c6c6c6" stroke-width="0.7"/>
<line x1="260.00" y1="687.50" x2="260.00" y2="689.70" stroke="#c6c6c6" stroke-width="0.7"/>
<line x1="288.75" y1="687.50" x2="288.75" y2="689.70" stroke="#c6c6c6" stroke-width="0.7"/>
<line x1="317.50" y1="687.50" x2="317.50" y2="689.70" stroke="#c6c6c6" stroke-width="0.7"/>
<line x1="346.50" y1="829.25" x2="344.30" y2="829.25" stroke="#c6c6c6" stroke-width="0.7"/>
<line x1="346.50" y1="805.50" x2="344.30" y2="805.50" stroke="#c6c6c6" stroke-width="0.7"/>
<line x1="346.50" y1="782.00" x2="344.30" y2="782.00" stroke="#c6c6c6" stroke-width="0.7"/>
<line x1="346.50" y1="758.50" x2="344.30" y2="758.50" stroke="#c6c6c6" stroke-width="0.7"/>
<line x1="346.50" y1="734.75" x2="344.30" y2="734.75" stroke="#c6c6c6" stroke-width="0.7"/>
<line x1="346.50" y1="711.25" x2="344.30" y2="711.25" stroke="#c6c6c6" stroke-width="0.7"/>
<line x1="346.50" y1="687.50" x2="344.30" y2="687.50" stroke="#c6c6c6" stroke-width="0.7"/>
<path d="M174.25 687.50V829.25H346.50" fill="none" stroke="#303030" stroke-width="1.1"/>
<line x1="174.25" y1="829.25" x2="176.45" y2="829.25" stroke="#303030" stroke-width="0.8"/>
<line x1="174.25" y1="805.50" x2="176.45" y2="805.50" stroke="#303030" stroke-width="0.8"/>
<line x1="174.25" y1="782.00" x2="176.45" y2="782.00" stroke="#303030" stroke-width="0.8"/>
<line x1="174.25" y1="758.50" x2="176.45" y2="758.50" stroke="#303030" stroke-width="0.8"/>
<line x1="174.25" y1="734.75" x2="176.45" y2="734.75" stroke="#303030" stroke-width="0.8"/>
<line x1="174.25" y1="711.25" x2="176.45" y2="711.25" stroke="#303030" stroke-width="0.8"/>
<line x1="174.25" y1="687.50" x2="176.45" y2="687.50" stroke="#303030" stroke-width="0.8"/>
<path d="M202.50 782.50V793.50M201.00 782.50H204.00M201.00 793.50H204.00" fill="none" stroke="#2a2a2a" stroke-width="0.65"/>
<path d="M231.50 769.50V786.50M230.00 769.50H233.00M230.00 786.50H233.00" fill="none" stroke="#2a2a2a" stroke-width="0.65"/>
<path d="M260.50 719.50V741.50M259.00 719.50H262.00M259.00 741.50H262.00" fill="none" stroke="#2a2a2a" stroke-width="0.65"/>
<path d="M288.50 713.50V740.50M287.00 713.50H290.00M287.00 740.50H290.00" fill="none" stroke="#2a2a2a" stroke-width="0.65"/>
<path d="M317.50 752.50V799.50M316.00 752.50H319.00M316.00 799.50H319.00" fill="none" stroke="#2a2a2a" stroke-width="0.65"/>
<line x1="174.50" y1="687.50" x2="174.50" y2="829.25" stroke="#707070" stroke-width="1.5"/>
<rect x="395.75" y="807.50" width="23.00" height="22.00" fill="#4f4f4f" stroke="#404040" stroke-width="0.5"/>
<rect x="424.75" y="795.00" width="23.00" height="34.50" fill="#4f4f4f" stroke="#404040" stroke-width="0.5"/>
<rect x="453.75" y="751.00" width="23.00" height="78.50" fill="#4f4f4f" stroke="#404040" stroke-width="0.5"/>
<rect x="482.75" y="731.00" width="23.00" height="98.50" fill="#4f4f4f" stroke="#404040" stroke-width="0.5"/>
<rect x="511.75" y="795.00" width="23.00" height="34.50" fill="#4f4f4f" stroke="#404040" stroke-width="0.5"/>
<path d="M378.25 682.25H552.00V829.50" fill="none" stroke="#c6c6c6" stroke-width="0.8"/>
<line x1="407.25" y1="682.25" x2="407.25" y2="684.45" stroke="#c6c6c6" stroke-width="0.7"/>
<line x1="436.25" y1="682.25" x2="436.25" y2="684.45" stroke="#c6c6c6" stroke-width="0.7"/>
<line x1="465.25" y1="682.25" x2="465.25" y2="684.45" stroke="#c6c6c6" stroke-width="0.7"/>
<line x1="494.25" y1="682.25" x2="494.25" y2="684.45" stroke="#c6c6c6" stroke-width="0.7"/>
<line x1="523.25" y1="682.25" x2="523.25" y2="684.45" stroke="#c6c6c6" stroke-width="0.7"/>
<line x1="552.00" y1="829.50" x2="549.80" y2="829.50" stroke="#c6c6c6" stroke-width="0.7"/>
<line x1="552.00" y1="792.75" x2="549.80" y2="792.75" stroke="#c6c6c6" stroke-width="0.7"/>
<line x1="552.00" y1="756.00" x2="549.80" y2="756.00" stroke="#c6c6c6" stroke-width="0.7"/>
<line x1="552.00" y1="719.00" x2="549.80" y2="719.00" stroke="#c6c6c6" stroke-width="0.7"/>
<line x1="552.00" y1="682.25" x2="549.80" y2="682.25" stroke="#c6c6c6" stroke-width="0.7"/>
<path d="M378.25 682.25V829.50H552.00" fill="none" stroke="#303030" stroke-width="1.1"/>
<line x1="378.25" y1="829.50" x2="380.45" y2="829.50" stroke="#303030" stroke-width="0.8"/>
<line x1="378.25" y1="792.75" x2="380.45" y2="792.75" stroke="#303030" stroke-width="0.8"/>
<line x1="378.25" y1="756.00" x2="380.45" y2="756.00" stroke="#303030" stroke-width="0.8"/>
<line x1="378.25" y1="719.00" x2="380.45" y2="719.00" stroke="#303030" stroke-width="0.8"/>
<line x1="378.25" y1="682.25" x2="380.45" y2="682.25" stroke="#303030" stroke-width="0.8"/>
<path d="M407.50 807.50V807.50M406.00 807.50H409.00M406.00 807.50H409.00" fill="none" stroke="#2a2a2a" stroke-width="0.65"/>
<path d="M436.50 790.50V799.50M435.00 790.50H438.00M435.00 799.50H438.00" fill="none" stroke="#2a2a2a" stroke-width="0.65"/>
<path d="M465.50 744.50V756.50M464.00 744.50H467.00M464.00 756.50H467.00" fill="none" stroke="#2a2a2a" stroke-width="0.65"/>
<path d="M494.50 708.50V753.50M493.00 708.50H496.00M493.00 753.50H496.00" fill="none" stroke="#2a2a2a" stroke-width="0.65"/>
<path d="M523.50 787.50V802.50M522.00 787.50H525.00M522.00 802.50H525.00" fill="none" stroke="#2a2a2a" stroke-width="0.65"/>
<rect x="597.25" y="702.00" width="22.50" height="127.25" fill="#4f4f4f" stroke="#404040" stroke-width="0.5"/>
<rect x="625.25" y="786.25" width="22.50" height="43.00" fill="#4f4f4f" stroke="#404040" stroke-width="0.5"/>
<rect x="653.25" y="805.50" width="22.50" height="23.75" fill="#4f4f4f" stroke="#404040" stroke-width="0.5"/>
<rect x="681.25" y="813.25" width="22.50" height="16.00" fill="#4f4f4f" stroke="#404040" stroke-width="0.5"/>
<rect x="709.25" y="818.00" width="22.50" height="11.25" fill="#4f4f4f" stroke="#404040" stroke-width="0.5"/>
<path d="M581.75 693.25H748.50V829.25" fill="none" stroke="#c6c6c6" stroke-width="0.8"/>
<line x1="608.50" y1="693.25" x2="608.50" y2="695.45" stroke="#c6c6c6" stroke-width="0.7"/>
<line x1="636.50" y1="693.25" x2="636.50" y2="695.45" stroke="#c6c6c6" stroke-width="0.7"/>
<line x1="664.50" y1="693.25" x2="664.50" y2="695.45" stroke="#c6c6c6" stroke-width="0.7"/>
<line x1="692.50" y1="693.25" x2="692.50" y2="695.45" stroke="#c6c6c6" stroke-width="0.7"/>
<line x1="720.50" y1="693.25" x2="720.50" y2="695.45" stroke="#c6c6c6" stroke-width="0.7"/>
<line x1="748.50" y1="829.25" x2="746.30" y2="829.25" stroke="#c6c6c6" stroke-width="0.7"/>
<line x1="748.50" y1="783.75" x2="746.30" y2="783.75" stroke="#c6c6c6" stroke-width="0.7"/>
<line x1="748.50" y1="738.50" x2="746.30" y2="738.50" stroke="#c6c6c6" stroke-width="0.7"/>
<line x1="748.50" y1="693.25" x2="746.30" y2="693.25" stroke="#c6c6c6" stroke-width="0.7"/>
<path d="M581.75 693.25V829.25H748.50" fill="none" stroke="#303030" stroke-width="1.1"/>
<line x1="581.75" y1="829.25" x2="583.95" y2="829.25" stroke="#303030" stroke-width="0.8"/>
<line x1="581.75" y1="783.75" x2="583.95" y2="783.75" stroke="#303030" stroke-width="0.8"/>
<line x1="581.75" y1="738.50" x2="583.95" y2="738.50" stroke="#303030" stroke-width="0.8"/>
<line x1="581.75" y1="693.25" x2="583.95" y2="693.25" stroke="#303030" stroke-width="0.8"/>
<path d="M608.50 696.50V707.50M607.00 696.50H610.00M607.00 707.50H610.00" fill="none" stroke="#2a2a2a" stroke-width="0.65"/>
<path d="M636.50 782.50V790.50M635.00 782.50H638.00M635.00 790.50H638.00" fill="none" stroke="#2a2a2a" stroke-width="0.65"/>
<path d="M664.50 801.50V809.50M663.00 801.50H666.00M663.00 809.50H666.00" fill="none" stroke="#2a2a2a" stroke-width="0.65"/>
<path d="M692.50 806.50V819.50M691.00 806.50H694.00M691.00 819.50H694.00" fill="none" stroke="#2a2a2a" stroke-width="0.65"/>
<path d="M720.50 809.50V826.50M719.00 809.50H722.00M719.00 826.50H722.00" fill="none" stroke="#2a2a2a" stroke-width="0.65"/>
<g opacity="0.999">
<text x="6.00" y="15.50" font-size="18.2" font-weight="bold" stroke="#000" stroke-width="0.28" textLength="26.00" lengthAdjust="spacingAndGlyphs" fill="#000">(A)</text>
<text x="5.50" y="452.60" font-size="18.2" font-weight="bold" stroke="#000" stroke-width="0.28" textLength="25.60" lengthAdjust="spacingAndGlyphs" fill="#000">(B)</text>
<text x="28.60" y="48.40" font-size="8.4" text-anchor="end" fill="#3c3c3c">80</text>
<text x="28.60" y="66.65" font-size="8.4" text-anchor="end" fill="#3c3c3c">60</text>
<text x="28.60" y="84.15" font-size="8.4" text-anchor="end" fill="#3c3c3c">40</text>
<text x="28.60" y="102.40" font-size="8.4" text-anchor="end" fill="#3c3c3c">20</text>
<text x="28.60" y="119.90" font-size="8.4" text-anchor="end" fill="#3c3c3c">0</text>
<text x="32.00" y="150.30" font-size="8.4" text-anchor="middle" fill="#3c3c3c">-100</text>
<text x="64.50" y="180.70" font-size="8.4" text-anchor="middle" fill="#3c3c3c">-50</text>
<text x="97.00" y="210.70" font-size="8.4" text-anchor="middle" fill="#3c3c3c">0</text>
<text x="127.10" y="208.60" font-size="8.4" text-anchor="middle" fill="#3c3c3c">0</text>
<text x="174.50" y="189.10" font-size="8.4" text-anchor="middle" fill="#3c3c3c">50</text>
<text x="221.70" y="169.40" font-size="8.4" text-anchor="middle" fill="#3c3c3c">100</text>
<text x="266.10" y="198.30" font-size="9.0" font-weight="bold" stroke="#262626" stroke-width="0.28" text-anchor="middle" textLength="5.65" lengthAdjust="spacingAndGlyphs" fill="#262626">0</text>
<text x="298.67" y="198.30" font-size="9.0" font-weight="bold" stroke="#262626" stroke-width="0.28" text-anchor="middle" textLength="11.30" lengthAdjust="spacingAndGlyphs" fill="#262626">50</text>
<text x="331.23" y="198.30" font-size="9.0" font-weight="bold" stroke="#262626" stroke-width="0.28" text-anchor="middle" textLength="16.95" lengthAdjust="spacingAndGlyphs" fill="#262626">100</text>
<text x="363.80" y="198.30" font-size="9.0" font-weight="bold" stroke="#262626" stroke-width="0.28" text-anchor="middle" textLength="16.95" lengthAdjust="spacingAndGlyphs" fill="#262626">150</text>
<text x="396.37" y="198.30" font-size="9.0" font-weight="bold" stroke="#262626" stroke-width="0.28" text-anchor="middle" textLength="16.95" lengthAdjust="spacingAndGlyphs" fill="#262626">200</text>
<text x="428.93" y="198.30" font-size="9.0" font-weight="bold" stroke="#262626" stroke-width="0.28" text-anchor="middle" textLength="16.95" lengthAdjust="spacingAndGlyphs" fill="#262626">250</text>
<text x="461.50" y="198.30" font-size="9.0" font-weight="bold" stroke="#262626" stroke-width="0.28" text-anchor="middle" textLength="16.95" lengthAdjust="spacingAndGlyphs" fill="#262626">300</text>
<text x="261.70" y="190.10" font-size="9.0" font-weight="bold" stroke="#262626" stroke-width="0.28" text-anchor="end" textLength="5.65" lengthAdjust="spacingAndGlyphs" fill="#262626">0</text>
<text x="261.70" y="158.74" font-size="9.0" font-weight="bold" stroke="#262626" stroke-width="0.28" text-anchor="end" textLength="5.65" lengthAdjust="spacingAndGlyphs" fill="#262626">2</text>
<text x="261.70" y="127.38" font-size="9.0" font-weight="bold" stroke="#262626" stroke-width="0.28" text-anchor="end" textLength="5.65" lengthAdjust="spacingAndGlyphs" fill="#262626">4</text>
<text x="261.70" y="96.02" font-size="9.0" font-weight="bold" stroke="#262626" stroke-width="0.28" text-anchor="end" textLength="5.65" lengthAdjust="spacingAndGlyphs" fill="#262626">6</text>
<text x="261.70" y="64.66" font-size="9.0" font-weight="bold" stroke="#262626" stroke-width="0.28" text-anchor="end" textLength="5.65" lengthAdjust="spacingAndGlyphs" fill="#262626">8</text>
<text x="261.70" y="33.30" font-size="9.0" font-weight="bold" stroke="#262626" stroke-width="0.28" text-anchor="end" textLength="11.30" lengthAdjust="spacingAndGlyphs" fill="#262626">10</text>
<text x="367.50" y="26.00" font-size="9.2" font-weight="bold" stroke="#262626" stroke-width="0.28" text-anchor="middle" textLength="71.50" lengthAdjust="spacingAndGlyphs" fill="#262626">Sholl analysis</text>
<text x="372.50" y="209.30" font-size="9.4" font-weight="bold" stroke="#262626" stroke-width="0.28" text-anchor="middle" textLength="131.00" lengthAdjust="spacingAndGlyphs" fill="#262626">distance from soma (um)</text>
<text x="0" y="0" transform="translate(249.60 98.20) rotate(-90)" font-size="9.2" font-weight="bold" stroke="#262626" stroke-width="0.28" text-anchor="middle" textLength="137.50" lengthAdjust="spacingAndGlyphs" fill="#262626">number of dendritic nodes</text>
<text x="546.90" y="201.40" font-size="9.1" font-weight="bold" stroke="#262626" stroke-width="0.28" text-anchor="middle" textLength="5.56" lengthAdjust="spacingAndGlyphs" fill="#262626">1</text>
<text x="571.37" y="201.40" font-size="9.1" font-weight="bold" stroke="#262626" stroke-width="0.28" text-anchor="middle" textLength="5.56" lengthAdjust="spacingAndGlyphs" fill="#262626">2</text>
<text x="595.84" y="201.40" font-size="9.1" font-weight="bold" stroke="#262626" stroke-width="0.28" text-anchor="middle" textLength="5.56" lengthAdjust="spacingAndGlyphs" fill="#262626">3</text>
<text x="620.31" y="201.40" font-size="9.1" font-weight="bold" stroke="#262626" stroke-width="0.28" text-anchor="middle" textLength="5.56" lengthAdjust="spacingAndGlyphs" fill="#262626">4</text>
<text x="644.78" y="201.40" font-size="9.1" font-weight="bold" stroke="#262626" stroke-width="0.28" text-anchor="middle" textLength="5.56" lengthAdjust="spacingAndGlyphs" fill="#262626">5</text>
<text x="669.25" y="201.40" font-size="9.1" font-weight="bold" stroke="#262626" stroke-width="0.28" text-anchor="middle" textLength="5.56" lengthAdjust="spacingAndGlyphs" fill="#262626">6</text>
<text x="693.72" y="201.40" font-size="9.1" font-weight="bold" stroke="#262626" stroke-width="0.28" text-anchor="middle" textLength="5.56" lengthAdjust="spacingAndGlyphs" fill="#262626">7</text>
<text x="519.60" y="193.10" font-size="9.1" font-weight="bold" stroke="#262626" stroke-width="0.28" text-anchor="end" textLength="5.56" lengthAdjust="spacingAndGlyphs" fill="#262626">0</text>
<text x="519.60" y="156.35" font-size="9.1" font-weight="bold" stroke="#262626" stroke-width="0.28" text-anchor="end" textLength="11.12" lengthAdjust="spacingAndGlyphs" fill="#262626">90</text>
<text x="519.60" y="119.60" font-size="9.1" font-weight="bold" stroke="#262626" stroke-width="0.28" text-anchor="end" textLength="16.68" lengthAdjust="spacingAndGlyphs" fill="#262626">180</text>
<text x="519.60" y="82.85" font-size="9.1" font-weight="bold" stroke="#262626" stroke-width="0.28" text-anchor="end" textLength="16.68" lengthAdjust="spacingAndGlyphs" fill="#262626">270</text>
<text x="519.60" y="46.10" font-size="9.1" font-weight="bold" stroke="#262626" stroke-width="0.28" text-anchor="end" textLength="16.68" lengthAdjust="spacingAndGlyphs" fill="#262626">360</text>
<text x="625.80" y="211.90" font-size="9.2" font-weight="bold" stroke="#262626" stroke-width="0.28" text-anchor="middle" textLength="82.50" lengthAdjust="spacingAndGlyphs" fill="#262626">branching order</text>
<text x="0" y="0" transform="translate(498.40 105.60) rotate(-90)" font-size="9.2" font-weight="bold" stroke="#262626" stroke-width="0.28" text-anchor="middle" textLength="164.00" lengthAdjust="spacingAndGlyphs" fill="#262626">mean direction angle (degrees)</text>
<text x="524.60" y="35.20" font-size="7.0" font-weight="bold" stroke="#262626" stroke-width="0.28" textLength="186.40" lengthAdjust="spacingAndGlyphs" fill="#262626">mean bifurcation angle = 56.02 +/- 4.03 degrees</text>
<text x="534.50" y="47.50" font-size="8.4" font-weight="bold" stroke="#262626" stroke-width="0.28" textLength="12.80" lengthAdjust="spacingAndGlyphs" fill="#262626">phi</text>
<text x="534.50" y="56.90" font-size="8.4" font-weight="bold" stroke="#262626" stroke-width="0.28" textLength="22.20" lengthAdjust="spacingAndGlyphs" fill="#262626">theta</text>
<text x="729.40" y="62.90" font-size="11.0" text-anchor="middle" fill="#111" font-family='"Liberation Serif", serif' stroke="#111" stroke-width="0.25">θ</text>
<text x="721.80" y="99.40" font-size="10.0" text-anchor="middle" fill="#111" font-family='"Liberation Serif", serif' stroke="#111" stroke-width="0.25">ϕ</text>
<text x="61.60" y="415.90" font-size="9.3" font-weight="bold" stroke="#262626" stroke-width="0.28" text-anchor="middle" textLength="5.56" lengthAdjust="spacingAndGlyphs" fill="#262626">1</text>
<text x="86.10" y="415.90" font-size="9.3" font-weight="bold" stroke="#262626" stroke-width="0.28" text-anchor="middle" textLength="5.56" lengthAdjust="spacingAndGlyphs" fill="#262626">2</text>
<text x="110.60" y="415.90" font-size="9.3" font-weight="bold" stroke="#262626" stroke-width="0.28" text-anchor="middle" textLength="5.56" lengthAdjust="spacingAndGlyphs" fill="#262626">3</text>
<text x="135.10" y="415.90" font-size="9.3" font-weight="bold" stroke="#262626" stroke-width="0.28" text-anchor="middle" textLength="5.56" lengthAdjust="spacingAndGlyphs" fill="#262626">4</text>
<text x="159.60" y="415.90" font-size="9.3" font-weight="bold" stroke="#262626" stroke-width="0.28" text-anchor="middle" textLength="5.56" lengthAdjust="spacingAndGlyphs" fill="#262626">5</text>
<text x="184.10" y="415.90" font-size="9.3" font-weight="bold" stroke="#262626" stroke-width="0.28" text-anchor="middle" textLength="5.56" lengthAdjust="spacingAndGlyphs" fill="#262626">6</text>
<text x="208.60" y="415.90" font-size="9.3" font-weight="bold" stroke="#262626" stroke-width="0.28" text-anchor="middle" textLength="5.56" lengthAdjust="spacingAndGlyphs" fill="#262626">7</text>
<text x="33.40" y="407.57" font-size="9.3" font-weight="bold" stroke="#262626" stroke-width="0.28" text-anchor="end" textLength="5.56" lengthAdjust="spacingAndGlyphs" fill="#262626">0</text>
<text x="33.40" y="352.82" font-size="9.3" font-weight="bold" stroke="#262626" stroke-width="0.28" text-anchor="end" textLength="5.56" lengthAdjust="spacingAndGlyphs" fill="#262626">1</text>
<text x="33.40" y="298.32" font-size="9.3" font-weight="bold" stroke="#262626" stroke-width="0.28" text-anchor="end" textLength="5.56" lengthAdjust="spacingAndGlyphs" fill="#262626">2</text>
<text x="33.40" y="243.82" font-size="9.3" font-weight="bold" stroke="#262626" stroke-width="0.28" text-anchor="end" textLength="5.56" lengthAdjust="spacingAndGlyphs" fill="#262626">3</text>
<text x="140.35" y="426.50" font-size="9.0" font-weight="bold" stroke="#262626" stroke-width="0.28" text-anchor="middle" textLength="82.50" lengthAdjust="spacingAndGlyphs" fill="#262626">branching order</text>
<text x="0" y="0" transform="translate(22.97 311.12) rotate(-90)" font-size="9.0" font-weight="bold" stroke="#262626" stroke-width="0.28" text-anchor="middle" textLength="131.75" lengthAdjust="spacingAndGlyphs" fill="#262626">mean branch radius (um)</text>
<text x="295.30" y="415.90" font-size="9.3" font-weight="bold" stroke="#262626" stroke-width="0.28" text-anchor="middle" textLength="5.56" lengthAdjust="spacingAndGlyphs" fill="#262626">1</text>
<text x="319.85" y="415.90" font-size="9.3" font-weight="bold" stroke="#262626" stroke-width="0.28" text-anchor="middle" textLength="5.56" lengthAdjust="spacingAndGlyphs" fill="#262626">2</text>
<text x="344.40" y="415.90" font-size="9.3" font-weight="bold" stroke="#262626" stroke-width="0.28" text-anchor="middle" textLength="5.56" lengthAdjust="spacingAndGlyphs" fill="#262626">3</text>
<text x="368.95" y="415.90" font-size="9.3" font-weight="bold" stroke="#262626" stroke-width="0.28" text-anchor="middle" textLength="5.56" lengthAdjust="spacingAndGlyphs" fill="#262626">4</text>
<text x="393.50" y="415.90" font-size="9.3" font-weight="bold" stroke="#262626" stroke-width="0.28" text-anchor="middle" textLength="5.56" lengthAdjust="spacingAndGlyphs" fill="#262626">5</text>
<text x="418.05" y="415.90" font-size="9.3" font-weight="bold" stroke="#262626" stroke-width="0.28" text-anchor="middle" textLength="5.56" lengthAdjust="spacingAndGlyphs" fill="#262626">6</text>
<text x="442.60" y="415.90" font-size="9.3" font-weight="bold" stroke="#262626" stroke-width="0.28" text-anchor="middle" textLength="5.56" lengthAdjust="spacingAndGlyphs" fill="#262626">7</text>
<text x="268.20" y="407.07" font-size="9.3" font-weight="bold" stroke="#262626" stroke-width="0.28" text-anchor="end" textLength="5.56" lengthAdjust="spacingAndGlyphs" fill="#262626">0</text>
<text x="268.20" y="379.57" font-size="9.3" font-weight="bold" stroke="#262626" stroke-width="0.28" text-anchor="end" textLength="11.47" lengthAdjust="spacingAndGlyphs" fill="#262626">50</text>
<text x="268.20" y="352.32" font-size="9.3" font-weight="bold" stroke="#262626" stroke-width="0.28" text-anchor="end" textLength="17.38" lengthAdjust="spacingAndGlyphs" fill="#262626">100</text>
<text x="268.20" y="325.07" font-size="9.3" font-weight="bold" stroke="#262626" stroke-width="0.28" text-anchor="end" textLength="17.38" lengthAdjust="spacingAndGlyphs" fill="#262626">150</text>
<text x="268.20" y="297.82" font-size="9.3" font-weight="bold" stroke="#262626" stroke-width="0.28" text-anchor="end" textLength="17.38" lengthAdjust="spacingAndGlyphs" fill="#262626">200</text>
<text x="268.20" y="270.82" font-size="9.3" font-weight="bold" stroke="#262626" stroke-width="0.28" text-anchor="end" textLength="17.38" lengthAdjust="spacingAndGlyphs" fill="#262626">250</text>
<text x="268.20" y="243.82" font-size="9.3" font-weight="bold" stroke="#262626" stroke-width="0.28" text-anchor="end" textLength="17.38" lengthAdjust="spacingAndGlyphs" fill="#262626">300</text>
<text x="374.12" y="426.50" font-size="9.0" font-weight="bold" stroke="#262626" stroke-width="0.28" text-anchor="middle" textLength="82.45" lengthAdjust="spacingAndGlyphs" fill="#262626">branching order</text>
<text x="0" y="0" transform="translate(245.97 310.25) rotate(-90)" font-size="9.0" font-weight="bold" stroke="#262626" stroke-width="0.28" text-anchor="middle" textLength="132.50" lengthAdjust="spacingAndGlyphs" fill="#262626">mean branch length (um)</text>
<text x="273.80" y="250.80" font-size="6.7" font-weight="bold" stroke="#262626" stroke-width="0.28" textLength="198.30" lengthAdjust="spacingAndGlyphs" fill="#262626">mean total dendritic length = 926.10 +/- 127.14 um</text>
<text x="273.80" y="259.40" font-size="6.7" font-weight="bold" stroke="#262626" stroke-width="0.28" textLength="156.30" lengthAdjust="spacingAndGlyphs" fill="#262626">mean branch length = 132.3 +/- 50.9 um</text>
<text x="538.65" y="415.70" font-size="9.3" font-weight="bold" stroke="#262626" stroke-width="0.28" text-anchor="middle" textLength="5.56" lengthAdjust="spacingAndGlyphs" fill="#262626">1</text>
<text x="563.15" y="415.70" font-size="9.3" font-weight="bold" stroke="#262626" stroke-width="0.28" text-anchor="middle" textLength="5.56" lengthAdjust="spacingAndGlyphs" fill="#262626">2</text>
<text x="587.65" y="415.70" font-size="9.3" font-weight="bold" stroke="#262626" stroke-width="0.28" text-anchor="middle" textLength="5.56" lengthAdjust="spacingAndGlyphs" fill="#262626">3</text>
<text x="612.15" y="415.70" font-size="9.3" font-weight="bold" stroke="#262626" stroke-width="0.28" text-anchor="middle" textLength="5.56" lengthAdjust="spacingAndGlyphs" fill="#262626">4</text>
<text x="636.65" y="415.70" font-size="9.3" font-weight="bold" stroke="#262626" stroke-width="0.28" text-anchor="middle" textLength="5.56" lengthAdjust="spacingAndGlyphs" fill="#262626">5</text>
<text x="661.15" y="415.70" font-size="9.3" font-weight="bold" stroke="#262626" stroke-width="0.28" text-anchor="middle" textLength="5.56" lengthAdjust="spacingAndGlyphs" fill="#262626">6</text>
<text x="685.65" y="415.70" font-size="9.3" font-weight="bold" stroke="#262626" stroke-width="0.28" text-anchor="middle" textLength="5.56" lengthAdjust="spacingAndGlyphs" fill="#262626">7</text>
<text x="512.40" y="406.82" font-size="9.3" font-weight="bold" stroke="#262626" stroke-width="0.28" text-anchor="end" textLength="5.56" lengthAdjust="spacingAndGlyphs" fill="#262626">0</text>
<text x="512.40" y="379.57" font-size="9.3" font-weight="bold" stroke="#262626" stroke-width="0.28" text-anchor="end" textLength="5.56" lengthAdjust="spacingAndGlyphs" fill="#262626">2</text>
<text x="512.40" y="352.32" font-size="9.3" font-weight="bold" stroke="#262626" stroke-width="0.28" text-anchor="end" textLength="5.56" lengthAdjust="spacingAndGlyphs" fill="#262626">4</text>
<text x="512.40" y="324.82" font-size="9.3" font-weight="bold" stroke="#262626" stroke-width="0.28" text-anchor="end" textLength="5.56" lengthAdjust="spacingAndGlyphs" fill="#262626">6</text>
<text x="512.40" y="297.57" font-size="9.3" font-weight="bold" stroke="#262626" stroke-width="0.28" text-anchor="end" textLength="5.56" lengthAdjust="spacingAndGlyphs" fill="#262626">8</text>
<text x="512.40" y="270.32" font-size="9.3" font-weight="bold" stroke="#262626" stroke-width="0.28" text-anchor="end" textLength="11.47" lengthAdjust="spacingAndGlyphs" fill="#262626">10</text>
<text x="512.40" y="243.32" font-size="9.3" font-weight="bold" stroke="#262626" stroke-width="0.28" text-anchor="end" textLength="11.47" lengthAdjust="spacingAndGlyphs" fill="#262626">12</text>
<text x="617.60" y="426.10" font-size="9.0" font-weight="bold" stroke="#262626" stroke-width="0.28" text-anchor="middle" textLength="82.50" lengthAdjust="spacingAndGlyphs" fill="#262626">branching order</text>
<text x="0" y="0" transform="translate(497.22 312.50) rotate(-90)" font-size="9.0" font-weight="bold" stroke="#262626" stroke-width="0.28" text-anchor="middle" textLength="135.50" lengthAdjust="spacingAndGlyphs" fill="#262626">mean number of branches</text>
<text x="516.80" y="249.00" font-size="6.7" font-weight="bold" stroke="#262626" stroke-width="0.28" textLength="178.20" lengthAdjust="spacingAndGlyphs" fill="#262626">mean total number of branches  = 26.7 +/- 7.8</text>
<text x="516.80" y="257.70" font-size="6.7" font-weight="bold" stroke="#262626" stroke-width="0.28" textLength="193.00" lengthAdjust="spacingAndGlyphs" fill="#262626">mean total number of branch points = 12.9 +/- 3.5</text>
<text x="21.15" y="574.40" font-size="5.8" font-weight="bold" stroke="#2a2a2a" stroke-width="0.28" text-anchor="middle" textLength="3.50" lengthAdjust="spacingAndGlyphs" fill="#2a2a2a">0</text>
<text x="40.23" y="574.40" font-size="5.8" font-weight="bold" stroke="#2a2a2a" stroke-width="0.28" text-anchor="middle" textLength="7.00" lengthAdjust="spacingAndGlyphs" fill="#2a2a2a">50</text>
<text x="59.32" y="574.40" font-size="5.8" font-weight="bold" stroke="#2a2a2a" stroke-width="0.28" text-anchor="middle" textLength="10.50" lengthAdjust="spacingAndGlyphs" fill="#2a2a2a">100</text>
<text x="78.40" y="574.40" font-size="5.8" font-weight="bold" stroke="#2a2a2a" stroke-width="0.28" text-anchor="middle" textLength="10.50" lengthAdjust="spacingAndGlyphs" fill="#2a2a2a">150</text>
<text x="97.48" y="574.40" font-size="5.8" font-weight="bold" stroke="#2a2a2a" stroke-width="0.28" text-anchor="middle" textLength="10.50" lengthAdjust="spacingAndGlyphs" fill="#2a2a2a">200</text>
<text x="116.57" y="574.40" font-size="5.8" font-weight="bold" stroke="#2a2a2a" stroke-width="0.28" text-anchor="middle" textLength="10.50" lengthAdjust="spacingAndGlyphs" fill="#2a2a2a">250</text>
<text x="136.25" y="574.40" font-size="5.8" font-weight="bold" stroke="#2a2a2a" stroke-width="0.28" text-anchor="middle" textLength="10.50" lengthAdjust="spacingAndGlyphs" fill="#2a2a2a">300</text>
<text x="19.75" y="569.60" font-size="5.8" font-weight="bold" stroke="#2a2a2a" stroke-width="0.28" text-anchor="end" textLength="3.50" lengthAdjust="spacingAndGlyphs" fill="#2a2a2a">0</text>
<text x="19.75" y="550.40" font-size="5.8" font-weight="bold" stroke="#2a2a2a" stroke-width="0.28" text-anchor="end" textLength="3.50" lengthAdjust="spacingAndGlyphs" fill="#2a2a2a">2</text>
<text x="19.75" y="531.20" font-size="5.8" font-weight="bold" stroke="#2a2a2a" stroke-width="0.28" text-anchor="end" textLength="3.50" lengthAdjust="spacingAndGlyphs" fill="#2a2a2a">4</text>
<text x="19.75" y="512.00" font-size="5.8" font-weight="bold" stroke="#2a2a2a" stroke-width="0.28" text-anchor="end" textLength="3.50" lengthAdjust="spacingAndGlyphs" fill="#2a2a2a">6</text>
<text x="19.75" y="492.80" font-size="5.8" font-weight="bold" stroke="#2a2a2a" stroke-width="0.28" text-anchor="end" textLength="3.50" lengthAdjust="spacingAndGlyphs" fill="#2a2a2a">8</text>
<text x="19.75" y="473.60" font-size="5.8" font-weight="bold" stroke="#2a2a2a" stroke-width="0.28" text-anchor="end" textLength="7.00" lengthAdjust="spacingAndGlyphs" fill="#2a2a2a">10</text>
<text x="67.00" y="478.60" font-size="5.6" font-weight="bold" stroke="#222" stroke-width="0.28" textLength="68.00" lengthAdjust="spacingAndGlyphs" fill="#222">Sholl Analysis (Apical)</text>
<text x="45.75" y="581.00" font-size="5.6" font-weight="bold" stroke="#333" stroke-width="0.28" textLength="76.80" lengthAdjust="spacingAndGlyphs" fill="#333">distance from soma (um)</text>
<text x="0" y="0" transform="translate(12.40 513.90) rotate(-90)" font-size="5.4" font-weight="bold" stroke="#333" stroke-width="0.28" text-anchor="middle" textLength="79.30" lengthAdjust="spacingAndGlyphs" fill="#333">number of dendritic nodes</text>
<text x="8.60" y="607.90" font-size="3.7" text-anchor="end" fill="#555">120</text>
<text x="8.60" y="621.80" font-size="3.7" text-anchor="end" fill="#555">100</text>
<text x="8.60" y="636.60" font-size="3.7" text-anchor="end" fill="#555">80</text>
<text x="8.60" y="650.60" font-size="3.7" text-anchor="end" fill="#555">60</text>
<text x="8.60" y="664.70" font-size="3.7" text-anchor="end" fill="#555">40</text>
<text x="8.60" y="678.90" font-size="3.7" text-anchor="end" fill="#555">20</text>
<text x="8.60" y="692.80" font-size="3.7" text-anchor="end" fill="#555">0</text>
<text x="8.60" y="707.30" font-size="3.7" text-anchor="end" fill="#555">-20</text>
<text x="8.60" y="721.50" font-size="3.7" text-anchor="end" fill="#555">-40</text>
<text x="8.60" y="735.70" font-size="3.7" text-anchor="end" fill="#555">-60</text>
<text x="17.20" y="747.36" font-size="3.5" text-anchor="middle" fill="#666">80</text>
<text x="31.62" y="748.08" font-size="3.5" text-anchor="middle" fill="#666">60</text>
<text x="46.13" y="748.82" font-size="3.5" text-anchor="middle" fill="#666">40</text>
<text x="60.54" y="749.54" font-size="3.5" text-anchor="middle" fill="#666">20</text>
<text x="74.96" y="750.27" font-size="3.5" text-anchor="middle" fill="#666">0</text>
<text x="134.69" y="746.06" font-size="3.2" text-anchor="middle" fill="#666">50</text>
<text x="138.13" y="741.09" font-size="3.2" text-anchor="middle" fill="#666">0</text>
<text x="141.57" y="736.11" font-size="3.2" text-anchor="middle" fill="#666">-50</text>
<text x="21.55" y="866.00" font-size="6.0" font-weight="bold" stroke="#2a2a2a" stroke-width="0.28" text-anchor="middle" textLength="3.80" lengthAdjust="spacingAndGlyphs" fill="#2a2a2a">0</text>
<text x="51.67" y="866.00" font-size="6.0" font-weight="bold" stroke="#2a2a2a" stroke-width="0.28" text-anchor="middle" textLength="7.60" lengthAdjust="spacingAndGlyphs" fill="#2a2a2a">50</text>
<text x="81.80" y="866.00" font-size="6.0" font-weight="bold" stroke="#2a2a2a" stroke-width="0.28" text-anchor="middle" textLength="11.40" lengthAdjust="spacingAndGlyphs" fill="#2a2a2a">100</text>
<text x="111.92" y="866.00" font-size="6.0" font-weight="bold" stroke="#2a2a2a" stroke-width="0.28" text-anchor="middle" textLength="11.40" lengthAdjust="spacingAndGlyphs" fill="#2a2a2a">150</text>
<text x="142.55" y="866.00" font-size="6.0" font-weight="bold" stroke="#2a2a2a" stroke-width="0.28" text-anchor="middle" textLength="11.40" lengthAdjust="spacingAndGlyphs" fill="#2a2a2a">200</text>
<text x="19.75" y="860.35" font-size="6.0" font-weight="bold" stroke="#2a2a2a" stroke-width="0.28" text-anchor="end" textLength="3.80" lengthAdjust="spacingAndGlyphs" fill="#2a2a2a">0</text>
<text x="19.75" y="835.35" font-size="6.0" font-weight="bold" stroke="#2a2a2a" stroke-width="0.28" text-anchor="end" textLength="3.80" lengthAdjust="spacingAndGlyphs" fill="#2a2a2a">5</text>
<text x="19.75" y="810.35" font-size="6.0" font-weight="bold" stroke="#2a2a2a" stroke-width="0.28" text-anchor="end" textLength="7.60" lengthAdjust="spacingAndGlyphs" fill="#2a2a2a">10</text>
<text x="19.75" y="785.35" font-size="6.0" font-weight="bold" stroke="#2a2a2a" stroke-width="0.28" text-anchor="end" textLength="7.60" lengthAdjust="spacingAndGlyphs" fill="#2a2a2a">15</text>
<text x="21.95" y="760.35" font-size="6.0" font-weight="bold" stroke="#2a2a2a" stroke-width="0.28" text-anchor="end" textLength="7.60" lengthAdjust="spacingAndGlyphs" fill="#2a2a2a">20</text>
<text x="89.50" y="765.60" font-size="4.3" font-weight="bold" stroke="#333" stroke-width="0.28" textLength="50.50" lengthAdjust="spacingAndGlyphs" fill="#333">Sholl Analysis (Basal)</text>
<text x="47.00" y="872.60" font-size="5.9" font-weight="bold" stroke="#333" stroke-width="0.28" textLength="81.20" lengthAdjust="spacingAndGlyphs" fill="#333">distance from soma (um)</text>
<text x="0" y="0" transform="translate(9.40 801.90) rotate(-90)" font-size="5.7" font-weight="bold" stroke="#333" stroke-width="0.28" text-anchor="middle" textLength="83.70" lengthAdjust="spacingAndGlyphs" fill="#333">number of dendritic nodes</text>
<text x="196.15" y="641.20" font-size="8.2" font-weight="bold" stroke="#262626" stroke-width="0.28" text-anchor="middle" textLength="5.00" lengthAdjust="spacingAndGlyphs" fill="#262626">1</text>
<text x="217.65" y="641.20" font-size="8.2" font-weight="bold" stroke="#262626" stroke-width="0.28" text-anchor="middle" textLength="5.00" lengthAdjust="spacingAndGlyphs" fill="#262626">2</text>
<text x="239.15" y="641.20" font-size="8.2" font-weight="bold" stroke="#262626" stroke-width="0.28" text-anchor="middle" textLength="5.00" lengthAdjust="spacingAndGlyphs" fill="#262626">3</text>
<text x="260.65" y="641.20" font-size="8.2" font-weight="bold" stroke="#262626" stroke-width="0.28" text-anchor="middle" textLength="5.00" lengthAdjust="spacingAndGlyphs" fill="#262626">4</text>
<text x="282.15" y="641.20" font-size="8.2" font-weight="bold" stroke="#262626" stroke-width="0.28" text-anchor="middle" textLength="5.00" lengthAdjust="spacingAndGlyphs" fill="#262626">5</text>
<text x="303.65" y="641.20" font-size="8.2" font-weight="bold" stroke="#262626" stroke-width="0.28" text-anchor="middle" textLength="5.00" lengthAdjust="spacingAndGlyphs" fill="#262626">6</text>
<text x="325.15" y="641.20" font-size="8.2" font-weight="bold" stroke="#262626" stroke-width="0.28" text-anchor="middle" textLength="5.00" lengthAdjust="spacingAndGlyphs" fill="#262626">7</text>
<text x="171.90" y="634.06" font-size="8.2" font-weight="bold" stroke="#262626" stroke-width="0.28" text-anchor="end" textLength="5.00" lengthAdjust="spacingAndGlyphs" fill="#262626">0</text>
<text x="171.90" y="610.31" font-size="8.2" font-weight="bold" stroke="#262626" stroke-width="0.28" text-anchor="end" textLength="10.35" lengthAdjust="spacingAndGlyphs" fill="#262626">50</text>
<text x="171.90" y="586.81" font-size="8.2" font-weight="bold" stroke="#262626" stroke-width="0.28" text-anchor="end" textLength="15.70" lengthAdjust="spacingAndGlyphs" fill="#262626">100</text>
<text x="171.90" y="563.31" font-size="8.2" font-weight="bold" stroke="#262626" stroke-width="0.28" text-anchor="end" textLength="15.70" lengthAdjust="spacingAndGlyphs" fill="#262626">150</text>
<text x="171.90" y="539.56" font-size="8.2" font-weight="bold" stroke="#262626" stroke-width="0.28" text-anchor="end" textLength="15.70" lengthAdjust="spacingAndGlyphs" fill="#262626">200</text>
<text x="171.90" y="516.06" font-size="8.2" font-weight="bold" stroke="#262626" stroke-width="0.28" text-anchor="end" textLength="15.70" lengthAdjust="spacingAndGlyphs" fill="#262626">250</text>
<text x="171.90" y="492.56" font-size="8.2" font-weight="bold" stroke="#262626" stroke-width="0.28" text-anchor="end" textLength="15.70" lengthAdjust="spacingAndGlyphs" fill="#262626">300</text>
<text x="265.23" y="650.80" font-size="8.6" font-weight="bold" stroke="#262626" stroke-width="0.28" text-anchor="middle" textLength="73.75" lengthAdjust="spacingAndGlyphs" fill="#262626">branching order</text>
<text x="0" y="0" transform="translate(152.84 561.50) rotate(-90)" font-size="8.6" font-weight="bold" stroke="#262626" stroke-width="0.28" text-anchor="middle" textLength="118.00" lengthAdjust="spacingAndGlyphs" fill="#262626">mean branch length (um)</text>
<text x="179.50" y="499.30" font-size="6.0" font-weight="bold" stroke="#262626" stroke-width="0.28" textLength="146.75" lengthAdjust="spacingAndGlyphs" fill="#262626">Apical total length = 855.45 +/- 109.21 um</text>
<text x="179.00" y="508.10" font-size="6.0" font-weight="bold" stroke="#262626" stroke-width="0.28" textLength="158.00" lengthAdjust="spacingAndGlyphs" fill="#262626">mean bifurcation angle = 48.5 +/- 2.7 degrees</text>
<text x="398.90" y="641.40" font-size="8.2" font-weight="bold" stroke="#262626" stroke-width="0.28" text-anchor="middle" textLength="5.00" lengthAdjust="spacingAndGlyphs" fill="#262626">1</text>
<text x="420.65" y="641.40" font-size="8.2" font-weight="bold" stroke="#262626" stroke-width="0.28" text-anchor="middle" textLength="5.00" lengthAdjust="spacingAndGlyphs" fill="#262626">2</text>
<text x="442.40" y="641.40" font-size="8.2" font-weight="bold" stroke="#262626" stroke-width="0.28" text-anchor="middle" textLength="5.00" lengthAdjust="spacingAndGlyphs" fill="#262626">3</text>
<text x="464.15" y="641.40" font-size="8.2" font-weight="bold" stroke="#262626" stroke-width="0.28" text-anchor="middle" textLength="5.00" lengthAdjust="spacingAndGlyphs" fill="#262626">4</text>
<text x="485.90" y="641.40" font-size="8.2" font-weight="bold" stroke="#262626" stroke-width="0.28" text-anchor="middle" textLength="5.00" lengthAdjust="spacingAndGlyphs" fill="#262626">5</text>
<text x="507.65" y="641.40" font-size="8.2" font-weight="bold" stroke="#262626" stroke-width="0.28" text-anchor="middle" textLength="5.00" lengthAdjust="spacingAndGlyphs" fill="#262626">6</text>
<text x="529.40" y="641.40" font-size="8.2" font-weight="bold" stroke="#262626" stroke-width="0.28" text-anchor="middle" textLength="5.00" lengthAdjust="spacingAndGlyphs" fill="#262626">7</text>
<text x="375.20" y="634.31" font-size="8.2" font-weight="bold" stroke="#262626" stroke-width="0.28" text-anchor="end" textLength="5.00" lengthAdjust="spacingAndGlyphs" fill="#262626">0</text>
<text x="375.20" y="598.31" font-size="8.2" font-weight="bold" stroke="#262626" stroke-width="0.28" text-anchor="end" textLength="5.00" lengthAdjust="spacingAndGlyphs" fill="#262626">5</text>
<text x="375.20" y="561.81" font-size="8.2" font-weight="bold" stroke="#262626" stroke-width="0.28" text-anchor="end" textLength="10.35" lengthAdjust="spacingAndGlyphs" fill="#262626">10</text>
<text x="375.20" y="525.31" font-size="8.2" font-weight="bold" stroke="#262626" stroke-width="0.28" text-anchor="end" textLength="10.35" lengthAdjust="spacingAndGlyphs" fill="#262626">15</text>
<text x="375.20" y="488.81" font-size="8.2" font-weight="bold" stroke="#262626" stroke-width="0.28" text-anchor="end" textLength="10.35" lengthAdjust="spacingAndGlyphs" fill="#262626">20</text>
<text x="468.98" y="651.30" font-size="8.6" font-weight="bold" stroke="#262626" stroke-width="0.28" text-anchor="middle" textLength="73.75" lengthAdjust="spacingAndGlyphs" fill="#262626">branching order</text>
<text x="0" y="0" transform="translate(362.34 557.12) rotate(-90)" font-size="8.6" font-weight="bold" stroke="#262626" stroke-width="0.28" text-anchor="middle" textLength="120.75" lengthAdjust="spacingAndGlyphs" fill="#262626">mean number of branches</text>
<text x="376.90" y="493.10" font-size="6.0" font-weight="bold" stroke="#262626" stroke-width="0.28" textLength="158.85" lengthAdjust="spacingAndGlyphs" fill="#262626">Apical total number of branches = 38.9 +/- 6.4</text>
<text x="376.90" y="500.90" font-size="6.0" font-weight="bold" stroke="#262626" stroke-width="0.28" textLength="174.35" lengthAdjust="spacingAndGlyphs" fill="#262626">Apical total number of branch points = 16.9 +/- 4.3</text>
<text x="602.90" y="641.30" font-size="8.0" font-weight="bold" stroke="#262626" stroke-width="0.28" text-anchor="middle" textLength="4.80" lengthAdjust="spacingAndGlyphs" fill="#262626">1</text>
<text x="623.84" y="641.30" font-size="8.0" font-weight="bold" stroke="#262626" stroke-width="0.28" text-anchor="middle" textLength="4.80" lengthAdjust="spacingAndGlyphs" fill="#262626">2</text>
<text x="644.78" y="641.30" font-size="8.0" font-weight="bold" stroke="#262626" stroke-width="0.28" text-anchor="middle" textLength="4.80" lengthAdjust="spacingAndGlyphs" fill="#262626">3</text>
<text x="665.72" y="641.30" font-size="8.0" font-weight="bold" stroke="#262626" stroke-width="0.28" text-anchor="middle" textLength="4.80" lengthAdjust="spacingAndGlyphs" fill="#262626">4</text>
<text x="686.66" y="641.30" font-size="8.0" font-weight="bold" stroke="#262626" stroke-width="0.28" text-anchor="middle" textLength="4.80" lengthAdjust="spacingAndGlyphs" fill="#262626">5</text>
<text x="707.60" y="641.30" font-size="8.0" font-weight="bold" stroke="#262626" stroke-width="0.28" text-anchor="middle" textLength="4.80" lengthAdjust="spacingAndGlyphs" fill="#262626">6</text>
<text x="728.54" y="641.30" font-size="8.0" font-weight="bold" stroke="#262626" stroke-width="0.28" text-anchor="middle" textLength="4.80" lengthAdjust="spacingAndGlyphs" fill="#262626">7</text>
<text x="578.80" y="634.54" font-size="8.0" font-weight="bold" stroke="#262626" stroke-width="0.28" text-anchor="end" textLength="4.80" lengthAdjust="spacingAndGlyphs" fill="#262626">0</text>
<text x="578.80" y="589.29" font-size="8.0" font-weight="bold" stroke="#262626" stroke-width="0.28" text-anchor="end" textLength="4.80" lengthAdjust="spacingAndGlyphs" fill="#262626">1</text>
<text x="578.80" y="543.79" font-size="8.0" font-weight="bold" stroke="#262626" stroke-width="0.28" text-anchor="end" textLength="4.80" lengthAdjust="spacingAndGlyphs" fill="#262626">2</text>
<text x="578.80" y="498.54" font-size="8.0" font-weight="bold" stroke="#262626" stroke-width="0.28" text-anchor="end" textLength="4.80" lengthAdjust="spacingAndGlyphs" fill="#262626">3</text>
<text x="669.98" y="650.80" font-size="7.9" font-weight="bold" stroke="#262626" stroke-width="0.28" text-anchor="middle" textLength="70.75" lengthAdjust="spacingAndGlyphs" fill="#262626">branching order</text>
<text x="0" y="0" transform="translate(569.61 554.25) rotate(-90)" font-size="7.9" font-weight="bold" stroke="#262626" stroke-width="0.28" text-anchor="middle" textLength="112.50" lengthAdjust="spacingAndGlyphs" fill="#262626">mean branch radius (um)</text>
<text x="720.00" y="506.30" font-size="5.6" font-weight="bold" stroke="#262626" stroke-width="0.28" textLength="19.75" lengthAdjust="spacingAndGlyphs" fill="#262626">Apical</text>
<text x="202.90" y="839.20" font-size="8.2" font-weight="bold" stroke="#262626" stroke-width="0.28" text-anchor="middle" textLength="5.00" lengthAdjust="spacingAndGlyphs" fill="#262626">1</text>
<text x="231.65" y="839.20" font-size="8.2" font-weight="bold" stroke="#262626" stroke-width="0.28" text-anchor="middle" textLength="5.00" lengthAdjust="spacingAndGlyphs" fill="#262626">2</text>
<text x="260.40" y="839.20" font-size="8.2" font-weight="bold" stroke="#262626" stroke-width="0.28" text-anchor="middle" textLength="5.00" lengthAdjust="spacingAndGlyphs" fill="#262626">3</text>
<text x="289.15" y="839.20" font-size="8.2" font-weight="bold" stroke="#262626" stroke-width="0.28" text-anchor="middle" textLength="5.00" lengthAdjust="spacingAndGlyphs" fill="#262626">4</text>
<text x="317.90" y="839.20" font-size="8.2" font-weight="bold" stroke="#262626" stroke-width="0.28" text-anchor="middle" textLength="5.00" lengthAdjust="spacingAndGlyphs" fill="#262626">5</text>
<text x="171.90" y="832.06" font-size="8.2" font-weight="bold" stroke="#262626" stroke-width="0.28" text-anchor="end" textLength="5.00" lengthAdjust="spacingAndGlyphs" fill="#262626">0</text>
<text x="171.90" y="808.31" font-size="8.2" font-weight="bold" stroke="#262626" stroke-width="0.28" text-anchor="end" textLength="10.35" lengthAdjust="spacingAndGlyphs" fill="#262626">50</text>
<text x="171.90" y="784.81" font-size="8.2" font-weight="bold" stroke="#262626" stroke-width="0.28" text-anchor="end" textLength="15.70" lengthAdjust="spacingAndGlyphs" fill="#262626">100</text>
<text x="171.90" y="761.31" font-size="8.2" font-weight="bold" stroke="#262626" stroke-width="0.28" text-anchor="end" textLength="15.70" lengthAdjust="spacingAndGlyphs" fill="#262626">150</text>
<text x="171.90" y="737.56" font-size="8.2" font-weight="bold" stroke="#262626" stroke-width="0.28" text-anchor="end" textLength="15.70" lengthAdjust="spacingAndGlyphs" fill="#262626">200</text>
<text x="171.90" y="714.06" font-size="8.2" font-weight="bold" stroke="#262626" stroke-width="0.28" text-anchor="end" textLength="15.70" lengthAdjust="spacingAndGlyphs" fill="#262626">250</text>
<text x="171.90" y="690.31" font-size="8.2" font-weight="bold" stroke="#262626" stroke-width="0.28" text-anchor="end" textLength="15.70" lengthAdjust="spacingAndGlyphs" fill="#262626">300</text>
<text x="265.23" y="848.50" font-size="8.6" font-weight="bold" stroke="#262626" stroke-width="0.28" text-anchor="middle" textLength="73.75" lengthAdjust="spacingAndGlyphs" fill="#262626">branching order</text>
<text x="0" y="0" transform="translate(151.14 752.80) rotate(-90)" font-size="8.6" font-weight="bold" stroke="#262626" stroke-width="0.28" text-anchor="middle" textLength="117.20" lengthAdjust="spacingAndGlyphs" fill="#262626">mean branch length (um)</text>
<text x="178.75" y="696.60" font-size="6.0" font-weight="bold" stroke="#262626" stroke-width="0.28" textLength="135.75" lengthAdjust="spacingAndGlyphs" fill="#262626">Basal total length = 733.6 +/- 131.4 um</text>
<text x="178.25" y="705.10" font-size="6.0" font-weight="bold" stroke="#262626" stroke-width="0.28" textLength="158.00" lengthAdjust="spacingAndGlyphs" fill="#262626">mean bifurcation angle = 49.2 +/- 2.5 degrees</text>
<text x="407.65" y="839.70" font-size="8.2" font-weight="bold" stroke="#262626" stroke-width="0.28" text-anchor="middle" textLength="5.00" lengthAdjust="spacingAndGlyphs" fill="#262626">1</text>
<text x="436.65" y="839.70" font-size="8.2" font-weight="bold" stroke="#262626" stroke-width="0.28" text-anchor="middle" textLength="5.00" lengthAdjust="spacingAndGlyphs" fill="#262626">2</text>
<text x="465.65" y="839.70" font-size="8.2" font-weight="bold" stroke="#262626" stroke-width="0.28" text-anchor="middle" textLength="5.00" lengthAdjust="spacingAndGlyphs" fill="#262626">3</text>
<text x="494.65" y="839.70" font-size="8.2" font-weight="bold" stroke="#262626" stroke-width="0.28" text-anchor="middle" textLength="5.00" lengthAdjust="spacingAndGlyphs" fill="#262626">4</text>
<text x="523.65" y="839.70" font-size="8.2" font-weight="bold" stroke="#262626" stroke-width="0.28" text-anchor="middle" textLength="5.00" lengthAdjust="spacingAndGlyphs" fill="#262626">5</text>
<text x="375.80" y="832.31" font-size="8.2" font-weight="bold" stroke="#262626" stroke-width="0.28" text-anchor="end" textLength="5.00" lengthAdjust="spacingAndGlyphs" fill="#262626">0</text>
<text x="375.80" y="795.56" font-size="8.2" font-weight="bold" stroke="#262626" stroke-width="0.28" text-anchor="end" textLength="5.00" lengthAdjust="spacingAndGlyphs" fill="#262626">5</text>
<text x="375.80" y="758.81" font-size="8.2" font-weight="bold" stroke="#262626" stroke-width="0.28" text-anchor="end" textLength="10.35" lengthAdjust="spacingAndGlyphs" fill="#262626">10</text>
<text x="375.80" y="721.81" font-size="8.2" font-weight="bold" stroke="#262626" stroke-width="0.28" text-anchor="end" textLength="10.35" lengthAdjust="spacingAndGlyphs" fill="#262626">15</text>
<text x="375.80" y="685.06" font-size="8.2" font-weight="bold" stroke="#262626" stroke-width="0.28" text-anchor="end" textLength="10.35" lengthAdjust="spacingAndGlyphs" fill="#262626">20</text>
<text x="449.60" y="848.50" font-size="8.6" font-weight="bold" stroke="#262626" stroke-width="0.28" text-anchor="middle" textLength="100.00" lengthAdjust="spacingAndGlyphs" fill="#262626"></text>
<text x="0" y="0" transform="translate(362.34 746.50) rotate(-90)" font-size="8.6" font-weight="bold" stroke="#262626" stroke-width="0.28" text-anchor="middle" textLength="120.00" lengthAdjust="spacingAndGlyphs" fill="#262626">mean number of branches</text>
<text x="378.00" y="690.30" font-size="6.0" font-weight="bold" stroke="#262626" stroke-width="0.28" textLength="156.30" lengthAdjust="spacingAndGlyphs" fill="#262626">Basal total number of branches = 36.5 +/- 5.5</text>
<text x="378.00" y="698.10" font-size="6.0" font-weight="bold" stroke="#262626" stroke-width="0.28" textLength="172.00" lengthAdjust="spacingAndGlyphs" fill="#262626">Basal total number of branch points = 15.3 +/- 3.5</text>
<text x="608.90" y="838.90" font-size="8.0" font-weight="bold" stroke="#262626" stroke-width="0.28" text-anchor="middle" textLength="4.80" lengthAdjust="spacingAndGlyphs" fill="#262626">1</text>
<text x="636.90" y="838.90" font-size="8.0" font-weight="bold" stroke="#262626" stroke-width="0.28" text-anchor="middle" textLength="4.80" lengthAdjust="spacingAndGlyphs" fill="#262626">2</text>
<text x="664.90" y="838.90" font-size="8.0" font-weight="bold" stroke="#262626" stroke-width="0.28" text-anchor="middle" textLength="4.80" lengthAdjust="spacingAndGlyphs" fill="#262626">3</text>
<text x="692.90" y="838.90" font-size="8.0" font-weight="bold" stroke="#262626" stroke-width="0.28" text-anchor="middle" textLength="4.80" lengthAdjust="spacingAndGlyphs" fill="#262626">4</text>
<text x="720.90" y="838.90" font-size="8.0" font-weight="bold" stroke="#262626" stroke-width="0.28" text-anchor="middle" textLength="4.80" lengthAdjust="spacingAndGlyphs" fill="#262626">5</text>
<text x="578.80" y="832.04" font-size="8.0" font-weight="bold" stroke="#262626" stroke-width="0.28" text-anchor="end" textLength="4.80" lengthAdjust="spacingAndGlyphs" fill="#262626">0</text>
<text x="578.80" y="786.54" font-size="8.0" font-weight="bold" stroke="#262626" stroke-width="0.28" text-anchor="end" textLength="4.80" lengthAdjust="spacingAndGlyphs" fill="#262626">1</text>
<text x="578.80" y="741.29" font-size="8.0" font-weight="bold" stroke="#262626" stroke-width="0.28" text-anchor="end" textLength="4.80" lengthAdjust="spacingAndGlyphs" fill="#262626">2</text>
<text x="578.80" y="696.04" font-size="8.0" font-weight="bold" stroke="#262626" stroke-width="0.28" text-anchor="end" textLength="4.80" lengthAdjust="spacingAndGlyphs" fill="#262626">3</text>
<text x="669.48" y="847.80" font-size="7.9" font-weight="bold" stroke="#262626" stroke-width="0.28" text-anchor="middle" textLength="70.75" lengthAdjust="spacingAndGlyphs" fill="#262626">branching order</text>
<text x="0" y="0" transform="translate(567.61 751.75) rotate(-90)" font-size="7.9" font-weight="bold" stroke="#262626" stroke-width="0.28" text-anchor="middle" textLength="112.00" lengthAdjust="spacingAndGlyphs" fill="#262626">mean branch radius (um)</text>
<text x="720.00" y="704.10" font-size="5.2" font-weight="bold" stroke="#262626" stroke-width="0.28" textLength="17.00" lengthAdjust="spacingAndGlyphs" fill="#262626">Basal</text>
</g>
</svg>
</body></html>
